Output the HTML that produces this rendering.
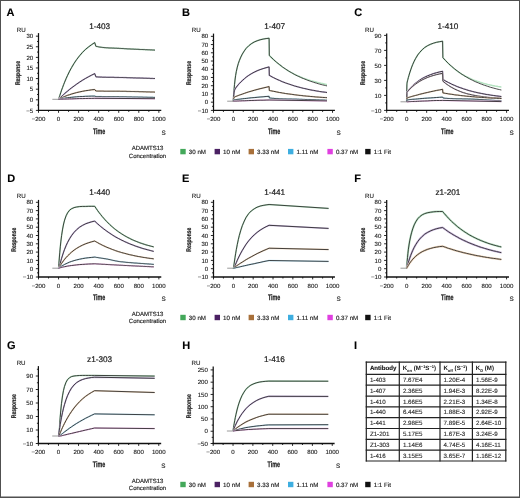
<!DOCTYPE html>
<html><head><meta charset="utf-8"><style>
html,body{margin:0;padding:0;background:#fff;}
svg{display:block;font-family:"Liberation Sans", sans-serif;will-change:transform;text-rendering:geometricPrecision;}
</style></head><body>
<svg width="520" height="498" viewBox="0 0 520 498">
<rect x="0" y="0" width="520" height="498" fill="#fff"/>
<text x="6.50" y="15.70" font-size="11" text-anchor="start" font-weight="bold" fill="#000" stroke="#000" stroke-width="0.1">A</text>
<text x="182.00" y="15.70" font-size="11" text-anchor="start" font-weight="bold" fill="#000" stroke="#000" stroke-width="0.1">B</text>
<text x="354.30" y="15.60" font-size="11" text-anchor="start" font-weight="bold" fill="#000" stroke="#000" stroke-width="0.1">C</text>
<text x="7.20" y="182.00" font-size="11" text-anchor="start" font-weight="bold" fill="#000" stroke="#000" stroke-width="0.1">D</text>
<text x="182.00" y="182.00" font-size="11" text-anchor="start" font-weight="bold" fill="#000" stroke="#000" stroke-width="0.1">E</text>
<text x="354.30" y="182.00" font-size="11" text-anchor="start" font-weight="bold" fill="#000" stroke="#000" stroke-width="0.1">F</text>
<text x="6.90" y="349.30" font-size="11" text-anchor="start" font-weight="bold" fill="#000" stroke="#000" stroke-width="0.1">G</text>
<text x="182.20" y="348.80" font-size="11" text-anchor="start" font-weight="bold" fill="#000" stroke="#000" stroke-width="0.1">H</text>
<text x="354.00" y="348.80" font-size="11" text-anchor="start" font-weight="bold" fill="#000" stroke="#000" stroke-width="0.1">I</text>
<line x1="52.34" y1="99.30" x2="58.56" y2="99.30" stroke="#9a9a9a" stroke-width="1.0"/>
<path d="M58.6,99.3 L58.7,99.0 L58.8,98.6 L58.9,98.3 L59.1,97.7 L59.4,96.7 L59.8,95.5 L60.3,94.0 L60.9,92.2 L61.6,90.1 L62.6,87.4 L63.6,84.7 L64.6,82.2 L66.1,78.6 L67.6,75.3 L69.6,71.2 L71.6,67.5 L74.1,63.3 L76.6,59.6 L79.6,55.7 L82.6,52.3 L85.6,49.3 L88.7,46.8 L91.7,44.6 L94.7,42.6 L95.9,46.3 L96.7,46.5 L97.5,46.6 L98.3,46.8 L99.2,47.0 L100.0,47.1 L100.8,47.2 L101.6,47.3 L102.4,47.4 L103.2,47.5 L104.1,47.6 L104.9,47.7 L105.7,47.7 L106.5,47.8 L107.3,47.8 L108.2,47.9 L109.0,47.9 L109.8,48.0 L110.6,48.0 L111.4,48.0 L112.3,48.1 L113.1,48.1 L113.9,48.1 L114.7,48.2 L115.5,48.2 L116.4,48.2 L117.2,48.3 L118.0,48.3 L118.8,48.3 L119.6,48.4 L120.4,48.4 L121.3,48.5 L122.1,48.5 L122.9,48.6 L123.7,48.6 L124.5,48.7 L125.3,48.7 L126.1,48.8 L126.9,48.8 L127.7,48.9 L128.5,48.9 L129.3,48.9 L130.1,49.0 L130.9,49.0 L131.7,49.1 L132.5,49.1 L133.3,49.1 L134.1,49.2 L134.9,49.2 L135.7,49.2 L136.5,49.3 L137.3,49.3 L138.2,49.3 L139.0,49.4 L139.8,49.4 L140.6,49.5 L141.4,49.5 L142.2,49.5 L143.0,49.6 L143.8,49.6 L144.6,49.6 L145.4,49.7 L146.2,49.7 L147.0,49.7 L147.8,49.8 L148.6,49.8 L149.4,49.8 L150.2,49.9 L151.0,49.9 L151.8,49.9 L152.6,50.0 L153.4,50.0 L154.2,50.1 L155.0,50.1" fill="none" stroke="#b4e2c0" stroke-width="1.5" stroke-linejoin="round"/>
<path d="M58.6,99.3 L58.7,99.0 L58.8,98.6 L58.9,98.3 L59.1,97.7 L59.4,96.7 L59.8,95.5 L60.3,94.0 L60.9,92.2 L61.6,90.1 L62.6,87.4 L63.6,84.7 L64.6,82.2 L66.1,78.6 L67.6,75.3 L69.6,71.2 L71.6,67.5 L74.1,63.3 L76.6,59.6 L79.6,55.7 L82.6,52.3 L85.6,49.3 L88.7,46.8 L91.7,44.6 L94.7,42.6 L95.9,46.3 L96.7,46.5 L97.5,46.6 L98.3,46.8 L99.2,47.0 L100.0,47.1 L100.8,47.2 L101.6,47.3 L102.4,47.4 L103.2,47.5 L104.1,47.6 L104.9,47.7 L105.7,47.7 L106.5,47.8 L107.3,47.8 L108.2,47.9 L109.0,47.9 L109.8,48.0 L110.6,48.0 L111.4,48.0 L112.3,48.1 L113.1,48.1 L113.9,48.1 L114.7,48.2 L115.5,48.2 L116.4,48.2 L117.2,48.3 L118.0,48.3 L118.8,48.3 L119.6,48.4 L120.4,48.4 L121.3,48.5 L122.1,48.5 L122.9,48.6 L123.7,48.6 L124.5,48.7 L125.3,48.7 L126.1,48.8 L126.9,48.8 L127.7,48.9 L128.5,48.9 L129.3,48.9 L130.1,49.0 L130.9,49.0 L131.7,49.1 L132.5,49.1 L133.3,49.1 L134.1,49.2 L134.9,49.2 L135.7,49.2 L136.5,49.3 L137.3,49.3 L138.2,49.3 L139.0,49.4 L139.8,49.4 L140.6,49.5 L141.4,49.5 L142.2,49.5 L143.0,49.6 L143.8,49.6 L144.6,49.6 L145.4,49.7 L146.2,49.7 L147.0,49.7 L147.8,49.8 L148.6,49.8 L149.4,49.8 L150.2,49.9 L151.0,49.9 L151.8,49.9 L152.6,50.0 L153.4,50.0 L154.2,50.1 L155.0,50.1" fill="none" stroke="#262626" stroke-opacity="0.95" stroke-width="0.9" stroke-linejoin="round"/>
<path d="M58.6,99.3 L58.7,99.2 L58.8,99.1 L58.9,99.0 L59.1,98.8 L59.4,98.5 L59.8,98.1 L60.3,97.6 L60.9,97.0 L61.6,96.4 L62.6,95.5 L63.6,94.5 L64.6,93.6 L66.1,92.3 L67.6,91.1 L69.6,89.4 L71.6,87.8 L74.1,86.0 L76.6,84.2 L79.6,82.1 L82.6,80.2 L85.6,78.4 L88.7,76.7 L91.7,75.1 L94.7,73.6 L95.9,76.8 L96.7,76.9 L97.5,76.9 L98.3,77.0 L99.2,77.0 L100.0,77.1 L100.8,77.1 L101.6,77.1 L102.4,77.2 L103.2,77.2 L104.1,77.2 L104.9,77.2 L105.7,77.2 L106.5,77.3 L107.3,77.3 L108.2,77.3 L109.0,77.3 L109.8,77.3 L110.6,77.3 L111.4,77.3 L112.3,77.3 L113.1,77.3 L113.9,77.3 L114.7,77.4 L115.5,77.4 L116.4,77.4 L117.2,77.4 L118.0,77.4 L118.8,77.4 L119.6,77.5 L120.4,77.5 L121.3,77.5 L122.1,77.5 L122.9,77.5 L123.7,77.6 L124.5,77.6 L125.3,77.6 L126.1,77.6 L126.9,77.7 L127.7,77.7 L128.5,77.7 L129.3,77.7 L130.1,77.8 L130.9,77.8 L131.7,77.8 L132.5,77.8 L133.3,77.9 L134.1,77.9 L134.9,77.9 L135.7,77.9 L136.5,78.0 L137.3,78.0 L138.2,78.0 L139.0,78.0 L139.8,78.0 L140.6,78.1 L141.4,78.1 L142.2,78.1 L143.0,78.1 L143.8,78.2 L144.6,78.2 L145.4,78.2 L146.2,78.2 L147.0,78.3 L147.8,78.3 L148.6,78.3 L149.4,78.3 L150.2,78.4 L151.0,78.4 L151.8,78.4 L152.6,78.4 L153.4,78.5 L154.2,78.5 L155.0,78.5" fill="none" stroke="#c8b4dc" stroke-width="1.5" stroke-linejoin="round"/>
<path d="M58.6,99.3 L58.7,99.2 L58.8,99.1 L58.9,99.0 L59.1,98.8 L59.4,98.5 L59.8,98.1 L60.3,97.6 L60.9,97.0 L61.6,96.4 L62.6,95.5 L63.6,94.5 L64.6,93.6 L66.1,92.3 L67.6,91.1 L69.6,89.4 L71.6,87.8 L74.1,86.0 L76.6,84.2 L79.6,82.1 L82.6,80.2 L85.6,78.4 L88.7,76.7 L91.7,75.1 L94.7,73.6 L95.9,76.8 L96.7,76.9 L97.5,76.9 L98.3,77.0 L99.2,77.0 L100.0,77.1 L100.8,77.1 L101.6,77.1 L102.4,77.2 L103.2,77.2 L104.1,77.2 L104.9,77.2 L105.7,77.2 L106.5,77.3 L107.3,77.3 L108.2,77.3 L109.0,77.3 L109.8,77.3 L110.6,77.3 L111.4,77.3 L112.3,77.3 L113.1,77.3 L113.9,77.3 L114.7,77.4 L115.5,77.4 L116.4,77.4 L117.2,77.4 L118.0,77.4 L118.8,77.4 L119.6,77.5 L120.4,77.5 L121.3,77.5 L122.1,77.5 L122.9,77.5 L123.7,77.6 L124.5,77.6 L125.3,77.6 L126.1,77.6 L126.9,77.7 L127.7,77.7 L128.5,77.7 L129.3,77.7 L130.1,77.8 L130.9,77.8 L131.7,77.8 L132.5,77.8 L133.3,77.9 L134.1,77.9 L134.9,77.9 L135.7,77.9 L136.5,78.0 L137.3,78.0 L138.2,78.0 L139.0,78.0 L139.8,78.0 L140.6,78.1 L141.4,78.1 L142.2,78.1 L143.0,78.1 L143.8,78.2 L144.6,78.2 L145.4,78.2 L146.2,78.2 L147.0,78.3 L147.8,78.3 L148.6,78.3 L149.4,78.3 L150.2,78.4 L151.0,78.4 L151.8,78.4 L152.6,78.4 L153.4,78.5 L154.2,78.5 L155.0,78.5" fill="none" stroke="#262626" stroke-opacity="0.95" stroke-width="0.9" stroke-linejoin="round"/>
<path d="M58.6,99.3 L58.7,99.2 L58.8,99.2 L58.9,99.1 L59.1,99.0 L59.4,98.9 L59.8,98.7 L60.3,98.4 L60.9,98.1 L61.6,97.8 L62.6,97.4 L63.6,96.9 L64.6,96.5 L66.1,95.9 L67.6,95.3 L69.6,94.7 L71.6,94.0 L74.1,93.3 L76.6,92.6 L79.6,91.9 L82.6,91.3 L85.6,90.7 L88.7,90.3 L91.7,89.8 L94.7,89.5 L95.9,91.0 L96.7,91.0 L97.5,91.1 L98.3,91.1 L99.2,91.1 L100.0,91.1 L100.8,91.1 L101.6,91.1 L102.4,91.1 L103.2,91.1 L104.1,91.2 L104.9,91.2 L105.7,91.2 L106.5,91.2 L107.3,91.2 L108.2,91.2 L109.0,91.2 L109.8,91.2 L110.6,91.2 L111.4,91.2 L112.3,91.2 L113.1,91.2 L113.9,91.2 L114.7,91.2 L115.5,91.2 L116.4,91.2 L117.2,91.2 L118.0,91.2 L118.8,91.2 L119.6,91.2 L120.4,91.3 L121.3,91.3 L122.1,91.3 L122.9,91.3 L123.7,91.3 L124.5,91.3 L125.3,91.3 L126.1,91.3 L126.9,91.4 L127.7,91.4 L128.5,91.4 L129.3,91.4 L130.1,91.4 L130.9,91.5 L131.7,91.5 L132.5,91.5 L133.3,91.5 L134.1,91.5 L134.9,91.6 L135.7,91.6 L136.5,91.6 L137.3,91.6 L138.2,91.6 L139.0,91.7 L139.8,91.7 L140.6,91.7 L141.4,91.7 L142.2,91.7 L143.0,91.8 L143.8,91.8 L144.6,91.8 L145.4,91.8 L146.2,91.9 L147.0,91.9 L147.8,91.9 L148.6,91.9 L149.4,91.9 L150.2,92.0 L151.0,92.0 L151.8,92.0 L152.6,92.0 L153.4,92.0 L154.2,92.1 L155.0,92.1" fill="none" stroke="#ead0b4" stroke-width="1.5" stroke-linejoin="round"/>
<path d="M58.6,99.3 L58.7,99.2 L58.8,99.2 L58.9,99.1 L59.1,99.0 L59.4,98.9 L59.8,98.7 L60.3,98.4 L60.9,98.1 L61.6,97.8 L62.6,97.4 L63.6,96.9 L64.6,96.5 L66.1,95.9 L67.6,95.3 L69.6,94.7 L71.6,94.0 L74.1,93.3 L76.6,92.6 L79.6,91.9 L82.6,91.3 L85.6,90.7 L88.7,90.3 L91.7,89.8 L94.7,89.5 L95.9,91.0 L96.7,91.0 L97.5,91.1 L98.3,91.1 L99.2,91.1 L100.0,91.1 L100.8,91.1 L101.6,91.1 L102.4,91.1 L103.2,91.1 L104.1,91.2 L104.9,91.2 L105.7,91.2 L106.5,91.2 L107.3,91.2 L108.2,91.2 L109.0,91.2 L109.8,91.2 L110.6,91.2 L111.4,91.2 L112.3,91.2 L113.1,91.2 L113.9,91.2 L114.7,91.2 L115.5,91.2 L116.4,91.2 L117.2,91.2 L118.0,91.2 L118.8,91.2 L119.6,91.2 L120.4,91.3 L121.3,91.3 L122.1,91.3 L122.9,91.3 L123.7,91.3 L124.5,91.3 L125.3,91.3 L126.1,91.3 L126.9,91.4 L127.7,91.4 L128.5,91.4 L129.3,91.4 L130.1,91.4 L130.9,91.5 L131.7,91.5 L132.5,91.5 L133.3,91.5 L134.1,91.5 L134.9,91.6 L135.7,91.6 L136.5,91.6 L137.3,91.6 L138.2,91.6 L139.0,91.7 L139.8,91.7 L140.6,91.7 L141.4,91.7 L142.2,91.7 L143.0,91.8 L143.8,91.8 L144.6,91.8 L145.4,91.8 L146.2,91.9 L147.0,91.9 L147.8,91.9 L148.6,91.9 L149.4,91.9 L150.2,92.0 L151.0,92.0 L151.8,92.0 L152.6,92.0 L153.4,92.0 L154.2,92.1 L155.0,92.1" fill="none" stroke="#262626" stroke-opacity="0.95" stroke-width="0.9" stroke-linejoin="round"/>
<path d="M58.6,99.3 L58.7,99.3 L58.8,99.3 L58.9,99.2 L59.1,99.2 L59.4,99.1 L59.8,99.0 L60.3,98.9 L60.9,98.8 L61.6,98.7 L62.6,98.5 L63.6,98.3 L64.6,98.2 L66.1,97.9 L67.6,97.7 L69.6,97.5 L71.6,97.3 L74.1,97.0 L76.6,96.8 L79.6,96.6 L82.6,96.5 L85.6,96.3 L88.7,96.2 L91.7,96.1 L94.7,96.1 L95.9,96.5 L96.7,96.6 L97.5,96.6 L98.3,96.6 L99.2,96.6 L100.0,96.6 L100.8,96.6 L101.6,96.6 L102.4,96.7 L103.2,96.7 L104.1,96.7 L104.9,96.7 L105.7,96.7 L106.5,96.7 L107.3,96.7 L108.2,96.7 L109.0,96.7 L109.8,96.7 L110.6,96.7 L111.4,96.7 L112.3,96.7 L113.1,96.7 L113.9,96.7 L114.7,96.7 L115.5,96.7 L116.4,96.7 L117.2,96.7 L118.0,96.7 L118.8,96.7 L119.6,96.8 L120.4,96.8 L121.3,96.8 L122.1,96.8 L122.9,96.8 L123.7,96.8 L124.5,96.8 L125.3,96.8 L126.1,96.8 L126.9,96.9 L127.7,96.9 L128.5,96.9 L129.3,96.9 L130.1,96.9 L130.9,96.9 L131.7,96.9 L132.5,97.0 L133.3,97.0 L134.1,97.0 L134.9,97.0 L135.7,97.0 L136.5,97.0 L137.3,97.0 L138.2,97.1 L139.0,97.1 L139.8,97.1 L140.6,97.1 L141.4,97.1 L142.2,97.1 L143.0,97.2 L143.8,97.2 L144.6,97.2 L145.4,97.2 L146.2,97.2 L147.0,97.2 L147.8,97.3 L148.6,97.3 L149.4,97.3 L150.2,97.3 L151.0,97.3 L151.8,97.3 L152.6,97.3 L153.4,97.4 L154.2,97.4 L155.0,97.4" fill="none" stroke="#bfe4f4" stroke-width="1.5" stroke-linejoin="round"/>
<path d="M58.6,99.3 L58.7,99.3 L58.8,99.3 L58.9,99.2 L59.1,99.2 L59.4,99.1 L59.8,99.0 L60.3,98.9 L60.9,98.8 L61.6,98.7 L62.6,98.5 L63.6,98.3 L64.6,98.2 L66.1,97.9 L67.6,97.7 L69.6,97.5 L71.6,97.3 L74.1,97.0 L76.6,96.8 L79.6,96.6 L82.6,96.5 L85.6,96.3 L88.7,96.2 L91.7,96.1 L94.7,96.1 L95.9,96.5 L96.7,96.6 L97.5,96.6 L98.3,96.6 L99.2,96.6 L100.0,96.6 L100.8,96.6 L101.6,96.6 L102.4,96.7 L103.2,96.7 L104.1,96.7 L104.9,96.7 L105.7,96.7 L106.5,96.7 L107.3,96.7 L108.2,96.7 L109.0,96.7 L109.8,96.7 L110.6,96.7 L111.4,96.7 L112.3,96.7 L113.1,96.7 L113.9,96.7 L114.7,96.7 L115.5,96.7 L116.4,96.7 L117.2,96.7 L118.0,96.7 L118.8,96.7 L119.6,96.8 L120.4,96.8 L121.3,96.8 L122.1,96.8 L122.9,96.8 L123.7,96.8 L124.5,96.8 L125.3,96.8 L126.1,96.8 L126.9,96.9 L127.7,96.9 L128.5,96.9 L129.3,96.9 L130.1,96.9 L130.9,96.9 L131.7,96.9 L132.5,97.0 L133.3,97.0 L134.1,97.0 L134.9,97.0 L135.7,97.0 L136.5,97.0 L137.3,97.0 L138.2,97.1 L139.0,97.1 L139.8,97.1 L140.6,97.1 L141.4,97.1 L142.2,97.1 L143.0,97.2 L143.8,97.2 L144.6,97.2 L145.4,97.2 L146.2,97.2 L147.0,97.2 L147.8,97.3 L148.6,97.3 L149.4,97.3 L150.2,97.3 L151.0,97.3 L151.8,97.3 L152.6,97.3 L153.4,97.4 L154.2,97.4 L155.0,97.4" fill="none" stroke="#262626" stroke-opacity="0.95" stroke-width="0.9" stroke-linejoin="round"/>
<path d="M58.6,99.3 L58.7,99.3 L58.8,99.3 L58.9,99.3 L59.1,99.3 L59.4,99.3 L59.8,99.3 L60.3,99.2 L60.9,99.2 L61.6,99.2 L62.6,99.2 L63.6,99.1 L64.6,99.1 L66.1,99.0 L67.6,99.0 L69.6,98.9 L71.6,98.9 L74.1,98.8 L76.6,98.7 L79.6,98.6 L82.6,98.6 L85.6,98.5 L88.7,98.4 L91.7,98.4 L94.7,98.3 L155.0,98.7" fill="none" stroke="#f6c4f0" stroke-width="1.5" stroke-linejoin="round"/>
<path d="M58.6,99.3 L58.7,99.3 L58.8,99.3 L58.9,99.3 L59.1,99.3 L59.4,99.3 L59.8,99.3 L60.3,99.2 L60.9,99.2 L61.6,99.2 L62.6,99.2 L63.6,99.1 L64.6,99.1 L66.1,99.0 L67.6,99.0 L69.6,98.9 L71.6,98.9 L74.1,98.8 L76.6,98.7 L79.6,98.6 L82.6,98.6 L85.6,98.5 L88.7,98.4 L91.7,98.4 L94.7,98.3 L155.0,98.7" fill="none" stroke="#262626" stroke-opacity="0.95" stroke-width="0.9" stroke-linejoin="round"/>
<line x1="38.50" y1="33.10" x2="38.50" y2="111.00" stroke="#111" stroke-width="1.25"/>
<line x1="37.90" y1="110.40" x2="161.27" y2="110.40" stroke="#111" stroke-width="1.3"/>
<line x1="38.50" y1="110.40" x2="38.50" y2="112.80" stroke="#111" stroke-width="0.9"/>
<text x="38.50" y="121.30" font-size="6.1" text-anchor="middle" font-weight="normal" fill="#222"  stroke="#222" stroke-width="0.12">−200</text>
<line x1="58.56" y1="110.40" x2="58.56" y2="112.80" stroke="#111" stroke-width="0.9"/>
<text x="58.56" y="121.30" font-size="6.1" text-anchor="middle" font-weight="normal" fill="#222"  stroke="#222" stroke-width="0.12">0</text>
<line x1="78.62" y1="110.40" x2="78.62" y2="112.80" stroke="#111" stroke-width="0.9"/>
<text x="78.62" y="121.30" font-size="6.1" text-anchor="middle" font-weight="normal" fill="#222"  stroke="#222" stroke-width="0.12">200</text>
<line x1="98.68" y1="110.40" x2="98.68" y2="112.80" stroke="#111" stroke-width="0.9"/>
<text x="98.68" y="121.30" font-size="6.1" text-anchor="middle" font-weight="normal" fill="#222"  stroke="#222" stroke-width="0.12">400</text>
<line x1="118.74" y1="110.40" x2="118.74" y2="112.80" stroke="#111" stroke-width="0.9"/>
<text x="118.74" y="121.30" font-size="6.1" text-anchor="middle" font-weight="normal" fill="#222"  stroke="#222" stroke-width="0.12">600</text>
<line x1="138.80" y1="110.40" x2="138.80" y2="112.80" stroke="#111" stroke-width="0.9"/>
<text x="138.80" y="121.30" font-size="6.1" text-anchor="middle" font-weight="normal" fill="#222"  stroke="#222" stroke-width="0.12">800</text>
<line x1="158.86" y1="110.40" x2="158.86" y2="112.80" stroke="#111" stroke-width="0.9"/>
<text x="158.86" y="121.30" font-size="6.1" text-anchor="middle" font-weight="normal" fill="#222"  stroke="#222" stroke-width="0.12">1000</text>
<line x1="48.53" y1="110.40" x2="48.53" y2="111.90" stroke="#111" stroke-width="0.9"/>
<line x1="68.59" y1="110.40" x2="68.59" y2="111.90" stroke="#111" stroke-width="0.9"/>
<line x1="88.65" y1="110.40" x2="88.65" y2="111.90" stroke="#111" stroke-width="0.9"/>
<line x1="108.71" y1="110.40" x2="108.71" y2="111.90" stroke="#111" stroke-width="0.9"/>
<line x1="128.77" y1="110.40" x2="128.77" y2="111.90" stroke="#111" stroke-width="0.9"/>
<line x1="148.83" y1="110.40" x2="148.83" y2="111.90" stroke="#111" stroke-width="0.9"/>
<line x1="35.90" y1="110.40" x2="38.50" y2="110.40" stroke="#111" stroke-width="0.9"/>
<text x="33.20" y="112.55" font-size="6.1" text-anchor="end" font-weight="normal" fill="#222"  stroke="#222" stroke-width="0.12">−5</text>
<line x1="35.90" y1="99.80" x2="38.50" y2="99.80" stroke="#111" stroke-width="0.9"/>
<text x="33.20" y="101.95" font-size="6.1" text-anchor="end" font-weight="normal" fill="#222"  stroke="#222" stroke-width="0.12">0</text>
<line x1="35.90" y1="89.19" x2="38.50" y2="89.19" stroke="#111" stroke-width="0.9"/>
<text x="33.20" y="91.34" font-size="6.1" text-anchor="end" font-weight="normal" fill="#222"  stroke="#222" stroke-width="0.12">5</text>
<line x1="35.90" y1="78.59" x2="38.50" y2="78.59" stroke="#111" stroke-width="0.9"/>
<text x="33.20" y="80.74" font-size="6.1" text-anchor="end" font-weight="normal" fill="#222"  stroke="#222" stroke-width="0.12">10</text>
<line x1="35.90" y1="67.98" x2="38.50" y2="67.98" stroke="#111" stroke-width="0.9"/>
<text x="33.20" y="70.13" font-size="6.1" text-anchor="end" font-weight="normal" fill="#222"  stroke="#222" stroke-width="0.12">15</text>
<line x1="35.90" y1="57.38" x2="38.50" y2="57.38" stroke="#111" stroke-width="0.9"/>
<text x="33.20" y="59.53" font-size="6.1" text-anchor="end" font-weight="normal" fill="#222"  stroke="#222" stroke-width="0.12">20</text>
<line x1="35.90" y1="46.77" x2="38.50" y2="46.77" stroke="#111" stroke-width="0.9"/>
<text x="33.20" y="48.92" font-size="6.1" text-anchor="end" font-weight="normal" fill="#222"  stroke="#222" stroke-width="0.12">25</text>
<line x1="35.90" y1="36.17" x2="38.50" y2="36.17" stroke="#111" stroke-width="0.9"/>
<text x="33.20" y="38.32" font-size="6.1" text-anchor="end" font-weight="normal" fill="#222"  stroke="#222" stroke-width="0.12">30</text>
<line x1="37.00" y1="105.10" x2="38.50" y2="105.10" stroke="#111" stroke-width="0.9"/>
<line x1="37.00" y1="94.49" x2="38.50" y2="94.49" stroke="#111" stroke-width="0.9"/>
<line x1="37.00" y1="83.89" x2="38.50" y2="83.89" stroke="#111" stroke-width="0.9"/>
<line x1="37.00" y1="73.28" x2="38.50" y2="73.28" stroke="#111" stroke-width="0.9"/>
<line x1="37.00" y1="62.68" x2="38.50" y2="62.68" stroke="#111" stroke-width="0.9"/>
<line x1="37.00" y1="52.07" x2="38.50" y2="52.07" stroke="#111" stroke-width="0.9"/>
<line x1="37.00" y1="41.47" x2="38.50" y2="41.47" stroke="#111" stroke-width="0.9"/>
<text x="21.20" y="31.70" font-size="6.2" text-anchor="middle" font-weight="normal" fill="#222"  stroke="#222" stroke-width="0.12">RU</text>
<text transform="translate(20.30,73.10) rotate(-90) scale(0.74,1)" x="0" y="0" font-size="6.8" text-anchor="middle" font-weight="bold" fill="#1a1a1a" stroke="#1a1a1a" stroke-width="0.2">Response</text>
<text transform="translate(99.10,133.50) scale(0.66,1)" x="0" y="0" font-size="8.1" text-anchor="middle" font-weight="bold" fill="#1a1a1a" stroke="#1a1a1a" stroke-width="0.25">Time</text>
<text x="163.50" y="134.60" font-size="6.3" text-anchor="middle" font-weight="normal" fill="#222"  stroke="#222" stroke-width="0.12">S</text>
<text x="99.70" y="28.70" font-size="8.2" text-anchor="middle" font-weight="normal" fill="#1a1a1a" stroke="#1a1a1a" stroke-width="0.2">1-403</text>
<line x1="227.19" y1="101.20" x2="233.34" y2="101.20" stroke="#9a9a9a" stroke-width="1.0"/>
<path d="M233.3,101.2 L233.4,99.4 L233.5,97.7 L233.6,96.1 L233.8,93.1 L234.1,89.1 L234.5,84.6 L235.0,80.0 L235.6,75.6 L236.3,71.6 L237.3,67.1 L238.3,63.6 L239.3,60.7 L240.8,57.1 L242.3,54.1 L244.3,50.9 L246.2,48.3 L248.7,45.8 L251.2,43.8 L254.2,42.0 L257.1,40.8 L260.1,39.8 L263.1,39.1 L266.1,38.6 L269.1,38.2 L269.3,55.4 L270.5,56.6 L272.0,58.1 L273.5,59.6 L275.0,61.0 L276.5,62.3 L278.0,63.5 L279.5,64.7 L281.0,65.9 L282.4,67.0 L283.9,68.0 L285.4,69.0 L286.9,70.0 L288.4,70.9 L289.9,71.8 L291.4,72.6 L292.9,73.4 L294.3,74.2 L295.8,74.9 L297.3,75.6 L298.8,76.2 L300.3,76.9 L301.8,77.5 L303.3,78.1 L304.8,78.6 L306.3,79.1 L307.7,79.6 L309.2,80.1 L310.7,80.6 L312.2,81.0 L313.7,81.4 L315.2,81.8 L316.7,82.2 L318.2,82.6 L319.6,82.9 L321.1,83.3 L322.6,83.6 L324.1,83.9 L325.6,84.2 L327.0,84.4" fill="none" stroke="#b4e2c0" stroke-width="1.5" stroke-linejoin="round"/>
<path d="M233.3,101.2 L233.4,99.4 L233.5,97.7 L233.6,96.1 L233.8,93.1 L234.1,89.1 L234.5,84.6 L235.0,80.0 L235.6,75.6 L236.3,71.6 L237.3,67.1 L238.3,63.6 L239.3,60.7 L240.8,57.1 L242.3,54.1 L244.3,50.9 L246.2,48.3 L248.7,45.8 L251.2,43.8 L254.2,42.0 L257.1,40.8 L260.1,39.8 L263.1,39.1 L266.1,38.6 L269.1,38.2 L269.3,55.5 L270.5,56.7 L272.0,58.1 L273.5,59.5 L275.0,60.9 L276.5,62.2 L278.0,63.4 L279.5,64.6 L281.0,65.7 L282.4,66.9 L283.9,67.9 L285.4,68.9 L286.9,69.9 L288.4,70.9 L289.9,71.8 L291.4,72.6 L292.9,73.5 L294.3,74.3 L295.8,75.1 L297.3,75.8 L298.8,76.5 L300.3,77.2 L301.8,77.9 L303.3,78.5 L304.8,79.1 L306.3,79.7 L307.7,80.3 L309.2,80.8 L310.7,81.3 L312.2,81.8 L313.7,82.3 L315.2,82.8 L316.7,83.2 L318.2,83.7 L319.6,84.1 L321.1,84.5 L322.6,84.9 L324.1,85.2 L325.6,85.6 L327.0,85.9" fill="none" stroke="#262626" stroke-opacity="0.95" stroke-width="0.9" stroke-linejoin="round"/>
<path d="M233.3,101.2 L233.4,99.3 L233.5,97.6 L233.6,96.3 L233.8,94.2 L234.1,92.1 L234.5,90.5 L235.0,89.2 L235.6,88.2 L236.3,87.2 L237.3,85.9 L238.3,84.7 L239.3,83.6 L240.8,82.0 L242.3,80.6 L244.3,78.8 L246.2,77.2 L248.7,75.4 L251.2,73.8 L254.2,72.2 L257.1,70.8 L260.1,69.6 L263.1,68.6 L266.1,67.7 L269.1,66.9 L269.3,75.4 L270.5,76.0 L272.0,76.9 L273.5,77.6 L275.0,78.4 L276.5,79.1 L278.0,79.8 L279.5,80.4 L281.0,81.1 L282.4,81.7 L283.9,82.3 L285.4,82.9 L286.9,83.4 L288.4,83.9 L289.9,84.4 L291.4,84.9 L292.9,85.4 L294.3,85.9 L295.8,86.3 L297.3,86.7 L298.8,87.1 L300.3,87.5 L301.8,87.9 L303.3,88.3 L304.8,88.6 L306.3,88.9 L307.7,89.3 L309.2,89.6 L310.7,89.9 L312.2,90.2 L313.7,90.4 L315.2,90.7 L316.7,91.0 L318.2,91.2 L319.6,91.5 L321.1,91.7 L322.6,91.9 L324.1,92.1 L325.6,92.3 L327.0,92.5" fill="none" stroke="#c8b4dc" stroke-width="1.5" stroke-linejoin="round"/>
<path d="M233.3,101.2 L233.4,99.3 L233.5,97.6 L233.6,96.3 L233.8,94.2 L234.1,92.1 L234.5,90.5 L235.0,89.2 L235.6,88.2 L236.3,87.2 L237.3,85.9 L238.3,84.7 L239.3,83.6 L240.8,82.0 L242.3,80.6 L244.3,78.8 L246.2,77.2 L248.7,75.4 L251.2,73.8 L254.2,72.2 L257.1,70.8 L260.1,69.6 L263.1,68.6 L266.1,67.7 L269.1,66.9 L269.3,75.4 L270.5,76.0 L272.0,76.9 L273.5,77.6 L275.0,78.4 L276.5,79.1 L278.0,79.8 L279.5,80.4 L281.0,81.1 L282.4,81.7 L283.9,82.3 L285.4,82.9 L286.9,83.4 L288.4,83.9 L289.9,84.4 L291.4,84.9 L292.9,85.4 L294.3,85.9 L295.8,86.3 L297.3,86.7 L298.8,87.1 L300.3,87.5 L301.8,87.9 L303.3,88.3 L304.8,88.6 L306.3,88.9 L307.7,89.3 L309.2,89.6 L310.7,89.9 L312.2,90.2 L313.7,90.4 L315.2,90.7 L316.7,91.0 L318.2,91.2 L319.6,91.5 L321.1,91.7 L322.6,91.9 L324.1,92.1 L325.6,92.3 L327.0,92.5" fill="none" stroke="#262626" stroke-opacity="0.95" stroke-width="0.9" stroke-linejoin="round"/>
<path d="M233.3,101.2 L233.4,100.1 L233.5,99.3 L233.6,98.7 L233.8,98.0 L234.1,97.4 L234.5,97.1 L235.0,96.8 L235.6,96.5 L236.3,96.3 L237.3,95.9 L238.3,95.5 L239.3,95.1 L240.8,94.6 L242.3,94.1 L244.3,93.4 L246.2,92.7 L248.7,91.9 L251.2,91.2 L254.2,90.3 L257.1,89.5 L260.1,88.7 L263.1,88.0 L266.1,87.3 L269.1,86.6 L269.3,90.5 L270.5,90.7 L272.0,91.0 L273.5,91.3 L275.0,91.6 L276.5,91.9 L278.0,92.2 L279.5,92.5 L281.0,92.7 L282.4,93.0 L283.9,93.2 L285.4,93.5 L286.9,93.7 L288.4,93.9 L289.9,94.1 L291.4,94.3 L292.9,94.5 L294.3,94.7 L295.8,94.9 L297.3,95.1 L298.8,95.3 L300.3,95.4 L301.8,95.6 L303.3,95.8 L304.8,95.9 L306.3,96.1 L307.7,96.2 L309.2,96.3 L310.7,96.5 L312.2,96.6 L313.7,96.7 L315.2,96.9 L316.7,97.0 L318.2,97.1 L319.6,97.2 L321.1,97.3 L322.6,97.4 L324.1,97.5 L325.6,97.6 L327.0,97.7" fill="none" stroke="#ead0b4" stroke-width="1.5" stroke-linejoin="round"/>
<path d="M233.3,101.2 L233.4,100.1 L233.5,99.3 L233.6,98.7 L233.8,98.0 L234.1,97.4 L234.5,97.1 L235.0,96.8 L235.6,96.5 L236.3,96.3 L237.3,95.9 L238.3,95.5 L239.3,95.1 L240.8,94.6 L242.3,94.1 L244.3,93.4 L246.2,92.7 L248.7,91.9 L251.2,91.2 L254.2,90.3 L257.1,89.5 L260.1,88.7 L263.1,88.0 L266.1,87.3 L269.1,86.6 L269.3,90.5 L270.5,90.7 L272.0,91.0 L273.5,91.3 L275.0,91.6 L276.5,91.9 L278.0,92.2 L279.5,92.5 L281.0,92.7 L282.4,93.0 L283.9,93.2 L285.4,93.5 L286.9,93.7 L288.4,93.9 L289.9,94.1 L291.4,94.3 L292.9,94.5 L294.3,94.7 L295.8,94.9 L297.3,95.1 L298.8,95.3 L300.3,95.4 L301.8,95.6 L303.3,95.8 L304.8,95.9 L306.3,96.1 L307.7,96.2 L309.2,96.3 L310.7,96.5 L312.2,96.6 L313.7,96.7 L315.2,96.9 L316.7,97.0 L318.2,97.1 L319.6,97.2 L321.1,97.3 L322.6,97.4 L324.1,97.5 L325.6,97.6 L327.0,97.7" fill="none" stroke="#262626" stroke-opacity="0.95" stroke-width="0.9" stroke-linejoin="round"/>
<path d="M233.3,101.2 L233.4,100.7 L233.5,100.4 L233.6,100.2 L233.8,100.0 L234.1,99.9 L234.5,99.8 L235.0,99.7 L235.6,99.7 L236.3,99.6 L237.3,99.4 L238.3,99.3 L239.3,99.2 L240.8,99.0 L242.3,98.8 L244.3,98.6 L246.2,98.4 L248.7,98.1 L251.2,97.8 L254.2,97.6 L257.1,97.3 L260.1,97.0 L263.1,96.8 L266.1,96.5 L269.1,96.3 L269.3,97.9 L270.1,98.0 L270.9,98.1 L271.7,98.2 L272.5,98.3 L273.3,98.3 L274.1,98.4 L274.9,98.5 L275.7,98.5 L276.5,98.6 L277.3,98.6 L278.1,98.7 L278.9,98.7 L279.7,98.8 L280.5,98.8 L281.3,98.8 L282.0,98.8 L282.8,98.9 L283.6,98.9 L284.4,98.9 L285.2,98.9 L286.0,98.9 L286.8,99.0 L287.6,99.0 L288.4,99.0 L289.2,99.0 L290.0,99.0 L290.8,99.0 L291.6,99.0 L292.4,99.1 L293.2,99.1 L294.0,99.1 L294.7,99.1 L295.5,99.1 L296.3,99.1 L297.1,99.2 L297.9,99.2 L298.7,99.2 L299.5,99.3 L300.3,99.3 L301.1,99.3 L301.9,99.3 L302.8,99.4 L303.6,99.4 L304.4,99.4 L305.2,99.5 L306.0,99.5 L306.8,99.5 L307.6,99.6 L308.4,99.6 L309.2,99.6 L310.0,99.6 L310.8,99.7 L311.6,99.7 L312.4,99.7 L313.3,99.7 L314.1,99.8 L314.9,99.8 L315.7,99.8 L316.5,99.9 L317.3,99.9 L318.1,99.9 L318.9,99.9 L319.7,100.0 L320.5,100.0 L321.3,100.0 L322.1,100.0 L322.9,100.1 L323.8,100.1 L324.6,100.1 L325.4,100.2 L326.2,100.2 L327.0,100.2" fill="none" stroke="#bfe4f4" stroke-width="1.5" stroke-linejoin="round"/>
<path d="M233.3,101.2 L233.4,100.7 L233.5,100.4 L233.6,100.2 L233.8,100.0 L234.1,99.9 L234.5,99.8 L235.0,99.7 L235.6,99.7 L236.3,99.6 L237.3,99.4 L238.3,99.3 L239.3,99.2 L240.8,99.0 L242.3,98.8 L244.3,98.6 L246.2,98.4 L248.7,98.1 L251.2,97.8 L254.2,97.6 L257.1,97.3 L260.1,97.0 L263.1,96.8 L266.1,96.5 L269.1,96.3 L269.3,97.9 L270.1,98.0 L270.9,98.1 L271.7,98.2 L272.5,98.3 L273.3,98.3 L274.1,98.4 L274.9,98.5 L275.7,98.5 L276.5,98.6 L277.3,98.6 L278.1,98.7 L278.9,98.7 L279.7,98.8 L280.5,98.8 L281.3,98.8 L282.0,98.8 L282.8,98.9 L283.6,98.9 L284.4,98.9 L285.2,98.9 L286.0,98.9 L286.8,99.0 L287.6,99.0 L288.4,99.0 L289.2,99.0 L290.0,99.0 L290.8,99.0 L291.6,99.0 L292.4,99.1 L293.2,99.1 L294.0,99.1 L294.7,99.1 L295.5,99.1 L296.3,99.1 L297.1,99.2 L297.9,99.2 L298.7,99.2 L299.5,99.3 L300.3,99.3 L301.1,99.3 L301.9,99.3 L302.8,99.4 L303.6,99.4 L304.4,99.4 L305.2,99.5 L306.0,99.5 L306.8,99.5 L307.6,99.6 L308.4,99.6 L309.2,99.6 L310.0,99.6 L310.8,99.7 L311.6,99.7 L312.4,99.7 L313.3,99.7 L314.1,99.8 L314.9,99.8 L315.7,99.8 L316.5,99.9 L317.3,99.9 L318.1,99.9 L318.9,99.9 L319.7,100.0 L320.5,100.0 L321.3,100.0 L322.1,100.0 L322.9,100.1 L323.8,100.1 L324.6,100.1 L325.4,100.2 L326.2,100.2 L327.0,100.2" fill="none" stroke="#262626" stroke-opacity="0.95" stroke-width="0.9" stroke-linejoin="round"/>
<path d="M233.3,101.2 L233.4,101.2 L233.5,101.2 L233.6,101.2 L233.8,101.2 L234.1,101.2 L234.5,101.1 L235.0,101.1 L235.6,101.1 L236.3,101.1 L237.3,101.0 L238.3,101.0 L239.3,100.9 L240.8,100.9 L242.3,100.8 L244.3,100.8 L246.2,100.7 L248.7,100.6 L251.2,100.5 L254.2,100.4 L257.1,100.3 L260.1,100.2 L263.1,100.2 L266.1,100.1 L269.1,100.0 L327.0,100.9" fill="none" stroke="#f6c4f0" stroke-width="1.5" stroke-linejoin="round"/>
<path d="M233.3,101.2 L233.4,101.2 L233.5,101.2 L233.6,101.2 L233.8,101.2 L234.1,101.2 L234.5,101.1 L235.0,101.1 L235.6,101.1 L236.3,101.1 L237.3,101.0 L238.3,101.0 L239.3,100.9 L240.8,100.9 L242.3,100.8 L244.3,100.8 L246.2,100.7 L248.7,100.6 L251.2,100.5 L254.2,100.4 L257.1,100.3 L260.1,100.2 L263.1,100.2 L266.1,100.1 L269.1,100.0 L327.0,100.9" fill="none" stroke="#262626" stroke-opacity="0.95" stroke-width="0.9" stroke-linejoin="round"/>
<line x1="213.50" y1="33.60" x2="213.50" y2="111.00" stroke="#111" stroke-width="1.25"/>
<line x1="212.90" y1="110.40" x2="334.92" y2="110.40" stroke="#111" stroke-width="1.3"/>
<line x1="213.50" y1="110.40" x2="213.50" y2="112.80" stroke="#111" stroke-width="0.9"/>
<text x="213.50" y="121.30" font-size="6.1" text-anchor="middle" font-weight="normal" fill="#222"  stroke="#222" stroke-width="0.12">−200</text>
<line x1="233.34" y1="110.40" x2="233.34" y2="112.80" stroke="#111" stroke-width="0.9"/>
<text x="233.34" y="121.30" font-size="6.1" text-anchor="middle" font-weight="normal" fill="#222"  stroke="#222" stroke-width="0.12">0</text>
<line x1="253.18" y1="110.40" x2="253.18" y2="112.80" stroke="#111" stroke-width="0.9"/>
<text x="253.18" y="121.30" font-size="6.1" text-anchor="middle" font-weight="normal" fill="#222"  stroke="#222" stroke-width="0.12">200</text>
<line x1="273.02" y1="110.40" x2="273.02" y2="112.80" stroke="#111" stroke-width="0.9"/>
<text x="273.02" y="121.30" font-size="6.1" text-anchor="middle" font-weight="normal" fill="#222"  stroke="#222" stroke-width="0.12">400</text>
<line x1="292.86" y1="110.40" x2="292.86" y2="112.80" stroke="#111" stroke-width="0.9"/>
<text x="292.86" y="121.30" font-size="6.1" text-anchor="middle" font-weight="normal" fill="#222"  stroke="#222" stroke-width="0.12">600</text>
<line x1="312.70" y1="110.40" x2="312.70" y2="112.80" stroke="#111" stroke-width="0.9"/>
<text x="312.70" y="121.30" font-size="6.1" text-anchor="middle" font-weight="normal" fill="#222"  stroke="#222" stroke-width="0.12">800</text>
<line x1="332.54" y1="110.40" x2="332.54" y2="112.80" stroke="#111" stroke-width="0.9"/>
<text x="332.54" y="121.30" font-size="6.1" text-anchor="middle" font-weight="normal" fill="#222"  stroke="#222" stroke-width="0.12">1000</text>
<line x1="223.42" y1="110.40" x2="223.42" y2="111.90" stroke="#111" stroke-width="0.9"/>
<line x1="243.26" y1="110.40" x2="243.26" y2="111.90" stroke="#111" stroke-width="0.9"/>
<line x1="263.10" y1="110.40" x2="263.10" y2="111.90" stroke="#111" stroke-width="0.9"/>
<line x1="282.94" y1="110.40" x2="282.94" y2="111.90" stroke="#111" stroke-width="0.9"/>
<line x1="302.78" y1="110.40" x2="302.78" y2="111.90" stroke="#111" stroke-width="0.9"/>
<line x1="322.62" y1="110.40" x2="322.62" y2="111.90" stroke="#111" stroke-width="0.9"/>
<line x1="210.90" y1="110.40" x2="213.50" y2="110.40" stroke="#111" stroke-width="0.9"/>
<text x="208.20" y="112.55" font-size="6.1" text-anchor="end" font-weight="normal" fill="#222"  stroke="#222" stroke-width="0.12">−10</text>
<line x1="210.90" y1="102.17" x2="213.50" y2="102.17" stroke="#111" stroke-width="0.9"/>
<text x="208.20" y="104.32" font-size="6.1" text-anchor="end" font-weight="normal" fill="#222"  stroke="#222" stroke-width="0.12">0</text>
<line x1="210.90" y1="93.94" x2="213.50" y2="93.94" stroke="#111" stroke-width="0.9"/>
<text x="208.20" y="96.09" font-size="6.1" text-anchor="end" font-weight="normal" fill="#222"  stroke="#222" stroke-width="0.12">10</text>
<line x1="210.90" y1="85.71" x2="213.50" y2="85.71" stroke="#111" stroke-width="0.9"/>
<text x="208.20" y="87.86" font-size="6.1" text-anchor="end" font-weight="normal" fill="#222"  stroke="#222" stroke-width="0.12">20</text>
<line x1="210.90" y1="77.48" x2="213.50" y2="77.48" stroke="#111" stroke-width="0.9"/>
<text x="208.20" y="79.63" font-size="6.1" text-anchor="end" font-weight="normal" fill="#222"  stroke="#222" stroke-width="0.12">30</text>
<line x1="210.90" y1="69.25" x2="213.50" y2="69.25" stroke="#111" stroke-width="0.9"/>
<text x="208.20" y="71.40" font-size="6.1" text-anchor="end" font-weight="normal" fill="#222"  stroke="#222" stroke-width="0.12">40</text>
<line x1="210.90" y1="61.02" x2="213.50" y2="61.02" stroke="#111" stroke-width="0.9"/>
<text x="208.20" y="63.17" font-size="6.1" text-anchor="end" font-weight="normal" fill="#222"  stroke="#222" stroke-width="0.12">50</text>
<line x1="210.90" y1="52.79" x2="213.50" y2="52.79" stroke="#111" stroke-width="0.9"/>
<text x="208.20" y="54.94" font-size="6.1" text-anchor="end" font-weight="normal" fill="#222"  stroke="#222" stroke-width="0.12">60</text>
<line x1="210.90" y1="44.56" x2="213.50" y2="44.56" stroke="#111" stroke-width="0.9"/>
<text x="208.20" y="46.71" font-size="6.1" text-anchor="end" font-weight="normal" fill="#222"  stroke="#222" stroke-width="0.12">70</text>
<line x1="210.90" y1="36.33" x2="213.50" y2="36.33" stroke="#111" stroke-width="0.9"/>
<text x="208.20" y="38.48" font-size="6.1" text-anchor="end" font-weight="normal" fill="#222"  stroke="#222" stroke-width="0.12">80</text>
<line x1="212.00" y1="106.29" x2="213.50" y2="106.29" stroke="#111" stroke-width="0.9"/>
<line x1="212.00" y1="98.06" x2="213.50" y2="98.06" stroke="#111" stroke-width="0.9"/>
<line x1="212.00" y1="89.83" x2="213.50" y2="89.83" stroke="#111" stroke-width="0.9"/>
<line x1="212.00" y1="81.59" x2="213.50" y2="81.59" stroke="#111" stroke-width="0.9"/>
<line x1="212.00" y1="73.37" x2="213.50" y2="73.37" stroke="#111" stroke-width="0.9"/>
<line x1="212.00" y1="65.14" x2="213.50" y2="65.14" stroke="#111" stroke-width="0.9"/>
<line x1="212.00" y1="56.91" x2="213.50" y2="56.91" stroke="#111" stroke-width="0.9"/>
<line x1="212.00" y1="48.68" x2="213.50" y2="48.68" stroke="#111" stroke-width="0.9"/>
<line x1="212.00" y1="40.45" x2="213.50" y2="40.45" stroke="#111" stroke-width="0.9"/>
<text x="196.20" y="31.70" font-size="6.2" text-anchor="middle" font-weight="normal" fill="#222"  stroke="#222" stroke-width="0.12">RU</text>
<text transform="translate(191.40,73.10) rotate(-90) scale(0.74,1)" x="0" y="0" font-size="6.8" text-anchor="middle" font-weight="bold" fill="#1a1a1a" stroke="#1a1a1a" stroke-width="0.2">Response</text>
<text transform="translate(274.10,133.50) scale(0.66,1)" x="0" y="0" font-size="8.1" text-anchor="middle" font-weight="bold" fill="#1a1a1a" stroke="#1a1a1a" stroke-width="0.25">Time</text>
<text x="338.50" y="134.60" font-size="6.3" text-anchor="middle" font-weight="normal" fill="#222"  stroke="#222" stroke-width="0.12">S</text>
<text x="274.70" y="28.70" font-size="8.2" text-anchor="middle" font-weight="normal" fill="#1a1a1a" stroke="#1a1a1a" stroke-width="0.2">1-407</text>
<line x1="400.49" y1="101.80" x2="406.68" y2="101.80" stroke="#9a9a9a" stroke-width="1.0"/>
<path d="M406.7,101.8 L406.8,89.1 L406.9,84.9 L407.0,83.4 L407.2,82.1 L407.5,80.8 L407.9,79.3 L408.4,77.4 L409.0,75.3 L409.7,72.9 L410.7,69.9 L411.7,67.1 L412.7,64.5 L414.2,61.2 L415.7,58.3 L417.7,55.0 L419.7,52.4 L422.2,49.7 L424.7,47.5 L427.7,45.6 L430.7,44.2 L433.7,43.1 L436.6,42.3 L439.6,41.7 L442.6,41.2 L442.9,57.5 L444.1,58.9 L445.6,60.6 L447.1,62.2 L448.6,63.7 L450.1,65.2 L451.6,66.5 L453.1,67.8 L454.6,69.0 L456.1,70.2 L457.6,71.3 L459.1,72.3 L460.6,73.3 L462.1,74.3 L463.6,75.1 L465.1,76.0 L466.6,76.8 L468.1,77.5 L469.6,78.2 L471.1,78.9 L472.6,79.6 L474.1,80.2 L475.6,80.7 L477.1,81.3 L478.6,81.8 L480.1,82.3 L481.6,82.7 L483.1,83.2 L484.6,83.6 L486.1,84.0 L487.6,84.4 L489.1,84.7 L490.6,85.1 L492.1,85.4 L493.6,85.7 L495.1,86.0 L496.6,86.2 L498.1,86.5 L499.6,86.7 L501.1,87.0 L501.4,87.0" fill="none" stroke="#b4e2c0" stroke-width="1.5" stroke-linejoin="round"/>
<path d="M406.7,101.8 L406.8,89.1 L406.9,84.9 L407.0,83.4 L407.2,82.1 L407.5,80.8 L407.9,79.3 L408.4,77.4 L409.0,75.3 L409.7,72.9 L410.7,69.9 L411.7,67.1 L412.7,64.5 L414.2,61.2 L415.7,58.3 L417.7,55.0 L419.7,52.4 L422.2,49.7 L424.7,47.5 L427.7,45.6 L430.7,44.2 L433.7,43.1 L436.6,42.3 L439.6,41.7 L442.6,41.2 L442.9,57.7 L444.1,59.0 L445.6,60.6 L447.1,62.1 L448.6,63.6 L450.1,65.0 L451.6,66.3 L453.1,67.6 L454.6,68.9 L456.1,70.1 L457.6,71.2 L459.1,72.3 L460.6,73.4 L462.1,74.4 L463.6,75.3 L465.1,76.3 L466.6,77.1 L468.1,78.0 L469.6,78.8 L471.1,79.6 L472.6,80.3 L474.1,81.1 L475.6,81.8 L477.1,82.4 L478.6,83.0 L480.1,83.7 L481.6,84.2 L483.1,84.8 L484.6,85.3 L486.1,85.8 L487.6,86.3 L489.1,86.8 L490.6,87.3 L492.1,87.7 L493.6,88.1 L495.1,88.5 L496.6,88.9 L498.1,89.3 L499.6,89.6 L501.1,90.0 L501.4,90.0" fill="none" stroke="#262626" stroke-opacity="0.95" stroke-width="0.9" stroke-linejoin="round"/>
<path d="M406.7,101.8 L406.8,93.7 L406.9,92.5 L407.0,92.2 L407.2,91.9 L407.5,91.5 L407.9,91.0 L408.4,90.4 L409.0,89.7 L409.7,88.9 L410.7,87.8 L411.7,86.7 L412.7,85.7 L414.2,84.3 L415.7,83.1 L417.7,81.5 L419.7,80.1 L422.2,78.5 L424.7,77.2 L427.7,75.8 L430.7,74.6 L433.7,73.5 L436.6,72.7 L439.6,71.9 L442.6,71.3 L442.9,79.4 L444.1,80.1 L445.6,81.0 L447.1,81.8 L448.6,82.6 L450.1,83.3 L451.6,84.1 L453.1,84.8 L454.6,85.4 L456.1,86.1 L457.6,86.7 L459.1,87.3 L460.6,87.8 L462.1,88.3 L463.6,88.9 L465.1,89.3 L466.6,89.8 L468.1,90.3 L469.6,90.7 L471.1,91.1 L472.6,91.5 L474.1,91.9 L475.6,92.2 L477.1,92.6 L478.6,92.9 L480.1,93.2 L481.6,93.5 L483.1,93.8 L484.6,94.1 L486.1,94.4 L487.6,94.6 L489.1,94.8 L490.6,95.1 L492.1,95.3 L493.6,95.5 L495.1,95.7 L496.6,95.9 L498.1,96.1 L499.6,96.3 L501.1,96.5 L501.4,96.5" fill="none" stroke="#c8b4dc" stroke-width="1.5" stroke-linejoin="round"/>
<path d="M406.7,101.8 L406.8,93.7 L406.9,92.5 L407.0,92.2 L407.2,91.9 L407.5,91.5 L407.9,91.0 L408.4,90.4 L409.0,89.7 L409.7,88.9 L410.7,87.8 L411.7,86.7 L412.7,85.7 L414.2,84.3 L415.7,83.1 L417.7,81.5 L419.7,80.1 L422.2,78.5 L424.7,77.2 L427.7,75.8 L430.7,74.6 L433.7,73.5 L436.6,72.7 L439.6,71.9 L442.6,71.3 L442.9,79.4 L444.1,80.1 L445.6,81.0 L447.1,81.8 L448.6,82.6 L450.1,83.3 L451.6,84.1 L453.1,84.8 L454.6,85.4 L456.1,86.1 L457.6,86.7 L459.1,87.3 L460.6,87.8 L462.1,88.3 L463.6,88.9 L465.1,89.3 L466.6,89.8 L468.1,90.3 L469.6,90.7 L471.1,91.1 L472.6,91.5 L474.1,91.9 L475.6,92.2 L477.1,92.6 L478.6,92.9 L480.1,93.2 L481.6,93.5 L483.1,93.8 L484.6,94.1 L486.1,94.4 L487.6,94.6 L489.1,94.8 L490.6,95.1 L492.1,95.3 L493.6,95.5 L495.1,95.7 L496.6,95.9 L498.1,96.1 L499.6,96.3 L501.1,96.5 L501.4,96.5" fill="none" stroke="#262626" stroke-opacity="0.95" stroke-width="0.9" stroke-linejoin="round"/>
<path d="M406.7,101.8 L406.8,93.7 L406.9,92.5 L407.0,92.2 L407.2,92.0 L407.5,91.6 L407.9,91.2 L408.4,90.6 L409.0,90.0 L409.7,89.2 L410.7,88.2 L411.7,87.3 L412.7,86.4 L414.2,85.1 L415.7,84.0 L417.7,82.6 L419.7,81.3 L422.2,79.9 L424.7,78.7 L427.7,77.4 L430.7,76.3 L433.7,75.4 L436.6,74.6 L439.6,73.9 L442.6,73.4 L442.9,81.2 L444.1,82.2 L445.6,83.4 L447.1,84.5 L448.6,85.5 L450.1,86.5 L451.6,87.4 L453.1,88.2 L454.6,89.0 L456.1,89.7 L457.6,90.4 L459.1,91.0 L460.6,91.6 L462.1,92.2 L463.6,92.7 L465.1,93.1 L466.6,93.6 L468.1,94.0 L469.6,94.3 L471.1,94.7 L472.6,95.0 L474.1,95.3 L475.6,95.6 L477.1,95.9 L478.6,96.1 L480.1,96.3 L481.6,96.5 L483.1,96.7 L484.6,96.9 L486.1,97.1 L487.6,97.3 L489.1,97.4 L490.6,97.5 L492.1,97.7 L493.6,97.8 L495.1,97.9 L496.6,98.0 L498.1,98.1 L499.6,98.2 L501.1,98.3 L501.4,98.3" fill="none" stroke="#e4d4e0" stroke-width="1.5" stroke-linejoin="round"/>
<path d="M406.7,101.8 L406.8,93.7 L406.9,92.5 L407.0,92.2 L407.2,92.0 L407.5,91.6 L407.9,91.2 L408.4,90.6 L409.0,90.0 L409.7,89.2 L410.7,88.2 L411.7,87.3 L412.7,86.4 L414.2,85.1 L415.7,84.0 L417.7,82.6 L419.7,81.3 L422.2,79.9 L424.7,78.7 L427.7,77.4 L430.7,76.3 L433.7,75.4 L436.6,74.6 L439.6,73.9 L442.6,73.4 L442.9,81.2 L444.1,82.2 L445.6,83.4 L447.1,84.5 L448.6,85.5 L450.1,86.5 L451.6,87.4 L453.1,88.2 L454.6,89.0 L456.1,89.7 L457.6,90.4 L459.1,91.0 L460.6,91.6 L462.1,92.2 L463.6,92.7 L465.1,93.1 L466.6,93.6 L468.1,94.0 L469.6,94.3 L471.1,94.7 L472.6,95.0 L474.1,95.3 L475.6,95.6 L477.1,95.9 L478.6,96.1 L480.1,96.3 L481.6,96.5 L483.1,96.7 L484.6,96.9 L486.1,97.1 L487.6,97.3 L489.1,97.4 L490.6,97.5 L492.1,97.7 L493.6,97.8 L495.1,97.9 L496.6,98.0 L498.1,98.1 L499.6,98.2 L501.1,98.3 L501.4,98.3" fill="none" stroke="#262626" stroke-opacity="0.95" stroke-width="0.9" stroke-linejoin="round"/>
<path d="M406.7,101.8 L406.8,98.5 L406.9,98.1 L407.0,98.0 L407.2,97.9 L407.5,97.8 L407.9,97.7 L408.4,97.5 L409.0,97.3 L409.7,97.1 L410.7,96.8 L411.7,96.5 L412.7,96.2 L414.2,95.8 L415.7,95.4 L417.7,94.9 L419.7,94.3 L422.2,93.7 L424.7,93.1 L427.7,92.4 L430.7,91.7 L433.7,91.1 L436.6,90.4 L439.6,89.9 L442.6,89.3 L442.9,92.9 L444.1,93.1 L445.6,93.4 L447.1,93.6 L448.6,93.9 L450.1,94.1 L451.6,94.3 L453.1,94.5 L454.6,94.8 L456.1,95.0 L457.6,95.1 L459.1,95.3 L460.6,95.5 L462.1,95.7 L463.6,95.8 L465.1,96.0 L466.6,96.2 L468.1,96.3 L469.6,96.4 L471.1,96.6 L472.6,96.7 L474.1,96.8 L475.6,97.0 L477.1,97.1 L478.6,97.2 L480.1,97.3 L481.6,97.4 L483.1,97.5 L484.6,97.6 L486.1,97.7 L487.6,97.8 L489.1,97.9 L490.6,98.0 L492.1,98.1 L493.6,98.1 L495.1,98.2 L496.6,98.3 L498.1,98.4 L499.6,98.4 L501.1,98.5 L501.4,98.5" fill="none" stroke="#ead0b4" stroke-width="1.5" stroke-linejoin="round"/>
<path d="M406.7,101.8 L406.8,98.5 L406.9,98.1 L407.0,98.0 L407.2,97.9 L407.5,97.8 L407.9,97.7 L408.4,97.5 L409.0,97.3 L409.7,97.1 L410.7,96.8 L411.7,96.5 L412.7,96.2 L414.2,95.8 L415.7,95.4 L417.7,94.9 L419.7,94.3 L422.2,93.7 L424.7,93.1 L427.7,92.4 L430.7,91.7 L433.7,91.1 L436.6,90.4 L439.6,89.9 L442.6,89.3 L442.9,92.9 L444.1,93.1 L445.6,93.4 L447.1,93.6 L448.6,93.9 L450.1,94.1 L451.6,94.3 L453.1,94.5 L454.6,94.8 L456.1,95.0 L457.6,95.1 L459.1,95.3 L460.6,95.5 L462.1,95.7 L463.6,95.8 L465.1,96.0 L466.6,96.2 L468.1,96.3 L469.6,96.4 L471.1,96.6 L472.6,96.7 L474.1,96.8 L475.6,97.0 L477.1,97.1 L478.6,97.2 L480.1,97.3 L481.6,97.4 L483.1,97.5 L484.6,97.6 L486.1,97.7 L487.6,97.8 L489.1,97.9 L490.6,98.0 L492.1,98.1 L493.6,98.1 L495.1,98.2 L496.6,98.3 L498.1,98.4 L499.6,98.4 L501.1,98.5 L501.4,98.5" fill="none" stroke="#262626" stroke-opacity="0.95" stroke-width="0.9" stroke-linejoin="round"/>
<path d="M406.7,101.8 L406.8,100.2 L406.9,99.9 L407.0,99.9 L407.2,99.9 L407.5,99.8 L407.9,99.8 L408.4,99.8 L409.0,99.7 L409.7,99.6 L410.7,99.5 L411.7,99.4 L412.7,99.3 L414.2,99.2 L415.7,99.1 L417.7,98.9 L419.7,98.7 L422.2,98.5 L424.7,98.3 L427.7,98.1 L430.7,97.9 L433.7,97.7 L436.6,97.5 L439.6,97.3 L442.6,97.1 L443.1,98.0 L444.0,98.1 L444.8,98.2 L445.6,98.3 L446.4,98.3 L447.2,98.4 L448.0,98.4 L448.8,98.5 L449.6,98.5 L450.4,98.6 L451.2,98.6 L452.1,98.6 L452.9,98.7 L453.7,98.7 L454.5,98.7 L455.3,98.7 L456.1,98.8 L456.9,98.8 L457.7,98.8 L458.5,98.8 L459.3,98.8 L460.2,98.8 L461.0,98.8 L461.8,98.8 L462.6,98.9 L463.4,98.9 L464.2,98.9 L465.0,98.9 L465.8,98.9 L466.6,98.9 L467.5,98.9 L468.3,99.0 L469.1,99.0 L469.9,99.0 L470.7,99.0 L471.5,99.1 L472.3,99.1 L473.1,99.1 L473.9,99.2 L474.7,99.2 L475.5,99.3 L476.4,99.3 L477.2,99.3 L478.0,99.4 L478.8,99.4 L479.6,99.5 L480.4,99.5 L481.2,99.6 L482.0,99.6 L482.8,99.7 L483.6,99.7 L484.4,99.8 L485.2,99.8 L486.0,99.9 L486.8,99.9 L487.7,100.0 L488.5,100.0 L489.3,100.1 L490.1,100.1 L490.9,100.2 L491.7,100.2 L492.5,100.3 L493.3,100.3 L494.1,100.4 L494.9,100.4 L495.7,100.5 L496.5,100.5 L497.3,100.6 L498.2,100.6 L499.0,100.7 L499.8,100.7 L500.6,100.8 L501.4,100.8" fill="none" stroke="#bfe4f4" stroke-width="1.5" stroke-linejoin="round"/>
<path d="M406.7,101.8 L406.8,100.2 L406.9,99.9 L407.0,99.9 L407.2,99.9 L407.5,99.8 L407.9,99.8 L408.4,99.8 L409.0,99.7 L409.7,99.6 L410.7,99.5 L411.7,99.4 L412.7,99.3 L414.2,99.2 L415.7,99.1 L417.7,98.9 L419.7,98.7 L422.2,98.5 L424.7,98.3 L427.7,98.1 L430.7,97.9 L433.7,97.7 L436.6,97.5 L439.6,97.3 L442.6,97.1 L443.1,98.0 L444.0,98.1 L444.8,98.2 L445.6,98.3 L446.4,98.3 L447.2,98.4 L448.0,98.4 L448.8,98.5 L449.6,98.5 L450.4,98.6 L451.2,98.6 L452.1,98.6 L452.9,98.7 L453.7,98.7 L454.5,98.7 L455.3,98.7 L456.1,98.8 L456.9,98.8 L457.7,98.8 L458.5,98.8 L459.3,98.8 L460.2,98.8 L461.0,98.8 L461.8,98.8 L462.6,98.9 L463.4,98.9 L464.2,98.9 L465.0,98.9 L465.8,98.9 L466.6,98.9 L467.5,98.9 L468.3,99.0 L469.1,99.0 L469.9,99.0 L470.7,99.0 L471.5,99.1 L472.3,99.1 L473.1,99.1 L473.9,99.2 L474.7,99.2 L475.5,99.3 L476.4,99.3 L477.2,99.3 L478.0,99.4 L478.8,99.4 L479.6,99.5 L480.4,99.5 L481.2,99.6 L482.0,99.6 L482.8,99.7 L483.6,99.7 L484.4,99.8 L485.2,99.8 L486.0,99.9 L486.8,99.9 L487.7,100.0 L488.5,100.0 L489.3,100.1 L490.1,100.1 L490.9,100.2 L491.7,100.2 L492.5,100.3 L493.3,100.3 L494.1,100.4 L494.9,100.4 L495.7,100.5 L496.5,100.5 L497.3,100.6 L498.2,100.6 L499.0,100.7 L499.8,100.7 L500.6,100.8 L501.4,100.8" fill="none" stroke="#262626" stroke-opacity="0.95" stroke-width="0.9" stroke-linejoin="round"/>
<path d="M406.7,101.8 L406.8,101.8 L406.9,101.8 L407.0,101.8 L407.2,101.8 L407.5,101.8 L407.9,101.7 L408.4,101.7 L409.0,101.7 L409.7,101.6 L410.7,101.6 L411.7,101.5 L412.7,101.5 L414.2,101.4 L415.7,101.4 L417.7,101.3 L419.7,101.2 L422.2,101.1 L424.7,101.0 L427.7,100.9 L430.7,100.7 L433.7,100.6 L436.6,100.5 L439.6,100.5 L442.6,100.4 L501.4,101.6" fill="none" stroke="#f6c4f0" stroke-width="1.5" stroke-linejoin="round"/>
<path d="M406.7,101.8 L406.8,101.8 L406.9,101.8 L407.0,101.8 L407.2,101.8 L407.5,101.8 L407.9,101.7 L408.4,101.7 L409.0,101.7 L409.7,101.6 L410.7,101.6 L411.7,101.5 L412.7,101.5 L414.2,101.4 L415.7,101.4 L417.7,101.3 L419.7,101.2 L422.2,101.1 L424.7,101.0 L427.7,100.9 L430.7,100.7 L433.7,100.6 L436.6,100.5 L439.6,100.5 L442.6,100.4 L501.4,101.6" fill="none" stroke="#262626" stroke-opacity="0.95" stroke-width="0.9" stroke-linejoin="round"/>
<line x1="386.70" y1="33.60" x2="386.70" y2="111.00" stroke="#111" stroke-width="1.25"/>
<line x1="386.10" y1="110.40" x2="508.98" y2="110.40" stroke="#111" stroke-width="1.3"/>
<line x1="386.70" y1="110.40" x2="386.70" y2="112.80" stroke="#111" stroke-width="0.9"/>
<text x="386.70" y="121.30" font-size="6.1" text-anchor="middle" font-weight="normal" fill="#222"  stroke="#222" stroke-width="0.12">−200</text>
<line x1="406.68" y1="110.40" x2="406.68" y2="112.80" stroke="#111" stroke-width="0.9"/>
<text x="406.68" y="121.30" font-size="6.1" text-anchor="middle" font-weight="normal" fill="#222"  stroke="#222" stroke-width="0.12">0</text>
<line x1="426.66" y1="110.40" x2="426.66" y2="112.80" stroke="#111" stroke-width="0.9"/>
<text x="426.66" y="121.30" font-size="6.1" text-anchor="middle" font-weight="normal" fill="#222"  stroke="#222" stroke-width="0.12">200</text>
<line x1="446.64" y1="110.40" x2="446.64" y2="112.80" stroke="#111" stroke-width="0.9"/>
<text x="446.64" y="121.30" font-size="6.1" text-anchor="middle" font-weight="normal" fill="#222"  stroke="#222" stroke-width="0.12">400</text>
<line x1="466.62" y1="110.40" x2="466.62" y2="112.80" stroke="#111" stroke-width="0.9"/>
<text x="466.62" y="121.30" font-size="6.1" text-anchor="middle" font-weight="normal" fill="#222"  stroke="#222" stroke-width="0.12">600</text>
<line x1="486.60" y1="110.40" x2="486.60" y2="112.80" stroke="#111" stroke-width="0.9"/>
<text x="486.60" y="121.30" font-size="6.1" text-anchor="middle" font-weight="normal" fill="#222"  stroke="#222" stroke-width="0.12">800</text>
<line x1="506.58" y1="110.40" x2="506.58" y2="112.80" stroke="#111" stroke-width="0.9"/>
<text x="506.58" y="121.30" font-size="6.1" text-anchor="middle" font-weight="normal" fill="#222"  stroke="#222" stroke-width="0.12">1000</text>
<line x1="396.69" y1="110.40" x2="396.69" y2="111.90" stroke="#111" stroke-width="0.9"/>
<line x1="416.67" y1="110.40" x2="416.67" y2="111.90" stroke="#111" stroke-width="0.9"/>
<line x1="436.65" y1="110.40" x2="436.65" y2="111.90" stroke="#111" stroke-width="0.9"/>
<line x1="456.63" y1="110.40" x2="456.63" y2="111.90" stroke="#111" stroke-width="0.9"/>
<line x1="476.61" y1="110.40" x2="476.61" y2="111.90" stroke="#111" stroke-width="0.9"/>
<line x1="496.59" y1="110.40" x2="496.59" y2="111.90" stroke="#111" stroke-width="0.9"/>
<line x1="384.10" y1="110.40" x2="386.70" y2="110.40" stroke="#111" stroke-width="0.9"/>
<text x="381.40" y="112.55" font-size="6.1" text-anchor="end" font-weight="normal" fill="#222"  stroke="#222" stroke-width="0.12">−10</text>
<line x1="384.10" y1="95.40" x2="386.70" y2="95.40" stroke="#111" stroke-width="0.9"/>
<text x="381.40" y="97.55" font-size="6.1" text-anchor="end" font-weight="normal" fill="#222"  stroke="#222" stroke-width="0.12">10</text>
<line x1="384.10" y1="80.40" x2="386.70" y2="80.40" stroke="#111" stroke-width="0.9"/>
<text x="381.40" y="82.55" font-size="6.1" text-anchor="end" font-weight="normal" fill="#222"  stroke="#222" stroke-width="0.12">30</text>
<line x1="384.10" y1="65.40" x2="386.70" y2="65.40" stroke="#111" stroke-width="0.9"/>
<text x="381.40" y="67.55" font-size="6.1" text-anchor="end" font-weight="normal" fill="#222"  stroke="#222" stroke-width="0.12">50</text>
<line x1="384.10" y1="50.40" x2="386.70" y2="50.40" stroke="#111" stroke-width="0.9"/>
<text x="381.40" y="52.55" font-size="6.1" text-anchor="end" font-weight="normal" fill="#222"  stroke="#222" stroke-width="0.12">70</text>
<line x1="384.10" y1="35.40" x2="386.70" y2="35.40" stroke="#111" stroke-width="0.9"/>
<text x="381.40" y="37.55" font-size="6.1" text-anchor="end" font-weight="normal" fill="#222"  stroke="#222" stroke-width="0.12">90</text>
<line x1="385.20" y1="102.90" x2="386.70" y2="102.90" stroke="#111" stroke-width="0.9"/>
<line x1="385.20" y1="87.90" x2="386.70" y2="87.90" stroke="#111" stroke-width="0.9"/>
<line x1="385.20" y1="72.90" x2="386.70" y2="72.90" stroke="#111" stroke-width="0.9"/>
<line x1="385.20" y1="57.90" x2="386.70" y2="57.90" stroke="#111" stroke-width="0.9"/>
<line x1="385.20" y1="42.90" x2="386.70" y2="42.90" stroke="#111" stroke-width="0.9"/>
<text x="369.40" y="31.70" font-size="6.2" text-anchor="middle" font-weight="normal" fill="#222"  stroke="#222" stroke-width="0.12">RU</text>
<text transform="translate(364.60,73.10) rotate(-90) scale(0.74,1)" x="0" y="0" font-size="6.8" text-anchor="middle" font-weight="bold" fill="#1a1a1a" stroke="#1a1a1a" stroke-width="0.2">Response</text>
<text transform="translate(447.30,133.50) scale(0.66,1)" x="0" y="0" font-size="8.1" text-anchor="middle" font-weight="bold" fill="#1a1a1a" stroke="#1a1a1a" stroke-width="0.25">Time</text>
<text x="511.70" y="134.60" font-size="6.3" text-anchor="middle" font-weight="normal" fill="#222"  stroke="#222" stroke-width="0.12">S</text>
<text x="447.90" y="28.70" font-size="8.2" text-anchor="middle" font-weight="normal" fill="#1a1a1a" stroke="#1a1a1a" stroke-width="0.2">1-410</text>
<line x1="52.34" y1="268.20" x2="58.56" y2="268.20" stroke="#9a9a9a" stroke-width="1.0"/>
<path d="M58.6,268.2 L58.7,266.7 L58.8,265.2 L58.9,263.7 L59.1,260.9 L59.4,257.0 L59.8,252.2 L60.3,246.8 L60.9,241.1 L61.6,235.5 L62.6,229.1 L63.6,224.0 L64.6,220.1 L66.1,215.8 L67.6,212.8 L69.6,210.2 L71.6,208.7 L74.1,207.6 L76.6,207.0 L79.6,206.6 L82.6,206.4 L85.6,206.4 L88.7,206.3 L91.7,206.3 L94.7,206.3 L95.2,207.0 L96.2,208.5 L97.7,210.7 L99.2,212.7 L100.7,214.6 L102.2,216.5 L103.7,218.2 L105.2,219.9 L106.7,221.5 L108.2,223.0 L109.7,224.5 L111.2,225.9 L112.7,227.2 L114.2,228.5 L115.7,229.7 L117.2,230.8 L118.7,231.9 L120.2,232.9 L121.7,233.9 L123.3,234.9 L124.8,235.8 L126.3,236.6 L127.8,237.5 L129.3,238.2 L130.8,239.0 L132.3,239.7 L133.8,240.4 L135.3,241.0 L136.8,241.6 L138.3,242.2 L139.8,242.8 L141.3,243.3 L142.8,243.8 L144.3,244.3 L145.8,244.8 L147.3,245.2 L148.8,245.6 L150.3,246.0 L151.8,246.4 L153.3,246.8 L153.8,246.9" fill="none" stroke="#b4e2c0" stroke-width="1.5" stroke-linejoin="round"/>
<path d="M58.6,268.2 L58.7,266.7 L58.8,265.2 L58.9,263.7 L59.1,260.9 L59.4,257.0 L59.8,252.2 L60.3,246.8 L60.9,241.1 L61.6,235.5 L62.6,229.1 L63.6,224.0 L64.6,220.1 L66.1,215.8 L67.6,212.8 L69.6,210.2 L71.6,208.7 L74.1,207.6 L76.6,207.0 L79.6,206.6 L82.6,206.4 L85.6,206.4 L88.7,206.3 L91.7,206.3 L94.7,206.3 L95.2,207.0 L96.2,208.5 L97.7,210.7 L99.2,212.7 L100.7,214.6 L102.2,216.5 L103.7,218.2 L105.2,219.9 L106.7,221.5 L108.2,223.0 L109.7,224.5 L111.2,225.9 L112.7,227.2 L114.2,228.5 L115.7,229.7 L117.2,230.8 L118.7,231.9 L120.2,232.9 L121.7,233.9 L123.3,234.9 L124.8,235.8 L126.3,236.6 L127.8,237.5 L129.3,238.2 L130.8,239.0 L132.3,239.7 L133.8,240.4 L135.3,241.0 L136.8,241.6 L138.3,242.2 L139.8,242.8 L141.3,243.3 L142.8,243.8 L144.3,244.3 L145.8,244.8 L147.3,245.2 L148.8,245.6 L150.3,246.0 L151.8,246.4 L153.3,246.8 L153.8,246.9" fill="none" stroke="#262626" stroke-opacity="0.95" stroke-width="0.9" stroke-linejoin="round"/>
<path d="M58.6,268.2 L58.7,268.2 L58.8,268.2 L58.9,268.2 L59.1,267.8 L59.4,266.5 L59.8,264.9 L60.3,263.0 L60.9,260.8 L61.6,258.3 L62.6,255.1 L63.6,252.1 L64.6,249.3 L66.1,245.6 L67.6,242.4 L69.6,238.7 L71.6,235.5 L74.1,232.3 L76.6,229.7 L79.6,227.2 L82.6,225.3 L85.6,223.8 L88.7,222.7 L91.7,221.8 L94.7,221.1 L95.2,221.6 L96.2,222.5 L97.7,223.9 L99.2,225.2 L100.7,226.5 L102.2,227.7 L103.7,228.9 L105.2,230.0 L106.7,231.1 L108.2,232.2 L109.7,233.2 L111.2,234.2 L112.7,235.2 L114.2,236.1 L115.7,237.0 L117.2,237.8 L118.7,238.6 L120.2,239.4 L121.7,240.2 L123.3,240.9 L124.8,241.7 L126.3,242.3 L127.8,243.0 L129.3,243.6 L130.8,244.3 L132.3,244.8 L133.8,245.4 L135.3,246.0 L136.8,246.5 L138.3,247.0 L139.8,247.5 L141.3,248.0 L142.8,248.5 L144.3,248.9 L145.8,249.3 L147.3,249.7 L148.8,250.1 L150.3,250.5 L151.8,250.9 L153.3,251.3 L153.8,251.4" fill="none" stroke="#c8b4dc" stroke-width="1.5" stroke-linejoin="round"/>
<path d="M58.6,268.2 L58.7,268.2 L58.8,268.2 L58.9,268.2 L59.1,267.8 L59.4,266.5 L59.8,264.9 L60.3,263.0 L60.9,260.8 L61.6,258.3 L62.6,255.1 L63.6,252.1 L64.6,249.3 L66.1,245.6 L67.6,242.4 L69.6,238.7 L71.6,235.5 L74.1,232.3 L76.6,229.7 L79.6,227.2 L82.6,225.3 L85.6,223.8 L88.7,222.7 L91.7,221.8 L94.7,221.1 L95.2,221.6 L96.2,222.5 L97.7,223.9 L99.2,225.2 L100.7,226.5 L102.2,227.7 L103.7,228.9 L105.2,230.0 L106.7,231.1 L108.2,232.2 L109.7,233.2 L111.2,234.2 L112.7,235.2 L114.2,236.1 L115.7,237.0 L117.2,237.8 L118.7,238.6 L120.2,239.4 L121.7,240.2 L123.3,240.9 L124.8,241.7 L126.3,242.3 L127.8,243.0 L129.3,243.6 L130.8,244.3 L132.3,244.8 L133.8,245.4 L135.3,246.0 L136.8,246.5 L138.3,247.0 L139.8,247.5 L141.3,248.0 L142.8,248.5 L144.3,248.9 L145.8,249.3 L147.3,249.7 L148.8,250.1 L150.3,250.5 L151.8,250.9 L153.3,251.3 L153.8,251.4" fill="none" stroke="#262626" stroke-opacity="0.95" stroke-width="0.9" stroke-linejoin="round"/>
<path d="M58.6,268.2 L58.7,268.0 L58.8,267.9 L58.9,267.7 L59.1,267.3 L59.4,266.8 L59.8,266.2 L60.3,265.4 L60.9,264.5 L61.6,263.4 L62.6,262.0 L63.6,260.6 L64.6,259.3 L66.1,257.5 L67.6,255.9 L69.6,253.9 L71.6,252.1 L74.1,250.1 L76.6,248.4 L79.6,246.6 L82.6,245.1 L85.6,243.8 L88.7,242.7 L91.7,241.8 L94.7,241.0 L95.2,241.3 L96.2,241.9 L97.7,242.7 L99.2,243.6 L100.7,244.3 L102.2,245.1 L103.7,245.8 L105.2,246.5 L106.7,247.2 L108.2,247.8 L109.7,248.4 L111.2,249.0 L112.7,249.6 L114.2,250.1 L115.7,250.7 L117.2,251.2 L118.7,251.7 L120.2,252.1 L121.7,252.6 L123.3,253.0 L124.8,253.4 L126.3,253.8 L127.8,254.2 L129.3,254.6 L130.8,254.9 L132.3,255.2 L133.8,255.6 L135.3,255.9 L136.8,256.2 L138.3,256.5 L139.8,256.7 L141.3,257.0 L142.8,257.3 L144.3,257.5 L145.8,257.7 L147.3,258.0 L148.8,258.2 L150.3,258.4 L151.8,258.6 L153.3,258.8 L153.8,258.9" fill="none" stroke="#ead0b4" stroke-width="1.5" stroke-linejoin="round"/>
<path d="M58.6,268.2 L58.7,268.0 L58.8,267.9 L58.9,267.7 L59.1,267.3 L59.4,266.8 L59.8,266.2 L60.3,265.4 L60.9,264.5 L61.6,263.4 L62.6,262.0 L63.6,260.6 L64.6,259.3 L66.1,257.5 L67.6,255.9 L69.6,253.9 L71.6,252.1 L74.1,250.1 L76.6,248.4 L79.6,246.6 L82.6,245.1 L85.6,243.8 L88.7,242.7 L91.7,241.8 L94.7,241.0 L95.2,241.3 L96.2,241.9 L97.7,242.7 L99.2,243.6 L100.7,244.3 L102.2,245.1 L103.7,245.8 L105.2,246.5 L106.7,247.2 L108.2,247.8 L109.7,248.4 L111.2,249.0 L112.7,249.6 L114.2,250.1 L115.7,250.7 L117.2,251.2 L118.7,251.7 L120.2,252.1 L121.7,252.6 L123.3,253.0 L124.8,253.4 L126.3,253.8 L127.8,254.2 L129.3,254.6 L130.8,254.9 L132.3,255.2 L133.8,255.6 L135.3,255.9 L136.8,256.2 L138.3,256.5 L139.8,256.7 L141.3,257.0 L142.8,257.3 L144.3,257.5 L145.8,257.7 L147.3,258.0 L148.8,258.2 L150.3,258.4 L151.8,258.6 L153.3,258.8 L153.8,258.9" fill="none" stroke="#262626" stroke-opacity="0.95" stroke-width="0.9" stroke-linejoin="round"/>
<path d="M58.6,268.2 L58.7,268.1 L58.8,268.1 L58.9,268.0 L59.1,267.8 L59.4,267.6 L59.8,267.3 L60.3,267.0 L60.9,266.6 L61.6,266.1 L62.6,265.5 L63.6,265.0 L64.6,264.4 L66.1,263.7 L67.6,263.0 L69.6,262.1 L71.6,261.4 L74.1,260.6 L76.6,259.9 L79.6,259.2 L82.6,258.6 L85.6,258.1 L88.7,257.7 L91.7,257.4 L94.7,257.1 L95.5,257.2 L96.4,257.4 L97.2,257.5 L98.1,257.6 L98.9,257.8 L99.8,257.9 L100.6,258.0 L101.5,258.2 L102.3,258.3 L103.2,258.4 L104.0,258.6 L104.9,258.7 L105.8,258.8 L106.6,259.0 L107.4,259.1 L108.2,259.3 L109.0,259.5 L109.9,259.6 L110.7,259.8 L111.5,260.0 L112.3,260.2 L113.1,260.4 L113.9,260.5 L114.8,260.7 L115.6,260.9 L116.4,261.0 L117.2,261.2 L118.0,261.3 L118.8,261.5 L119.6,261.6 L120.5,261.7 L121.3,261.8 L122.1,261.8 L122.9,261.9 L123.7,262.0 L124.5,262.1 L125.3,262.2 L126.2,262.3 L127.0,262.4 L127.8,262.4 L128.6,262.5 L129.4,262.6 L130.2,262.6 L131.0,262.7 L131.9,262.8 L132.7,262.8 L133.5,262.9 L134.3,263.0 L135.1,263.0 L135.9,263.1 L136.7,263.1 L137.6,263.2 L138.4,263.3 L139.2,263.3 L140.0,263.4 L140.8,263.4 L141.6,263.5 L142.4,263.5 L143.3,263.6 L144.1,263.7 L144.9,263.7 L145.7,263.8 L146.5,263.8 L147.3,263.9 L148.1,263.9 L149.0,264.0 L149.8,264.1 L150.6,264.1 L151.4,264.2 L152.2,264.3 L153.0,264.3 L153.8,264.4" fill="none" stroke="#bfe4f4" stroke-width="1.5" stroke-linejoin="round"/>
<path d="M58.6,268.2 L58.7,268.1 L58.8,268.1 L58.9,268.0 L59.1,267.8 L59.4,267.6 L59.8,267.3 L60.3,267.0 L60.9,266.6 L61.6,266.1 L62.6,265.5 L63.6,265.0 L64.6,264.4 L66.1,263.7 L67.6,263.0 L69.6,262.1 L71.6,261.4 L74.1,260.6 L76.6,259.9 L79.6,259.2 L82.6,258.6 L85.6,258.1 L88.7,257.7 L91.7,257.4 L94.7,257.1 L95.5,257.2 L96.4,257.4 L97.2,257.5 L98.1,257.6 L98.9,257.8 L99.8,257.9 L100.6,258.0 L101.5,258.2 L102.3,258.3 L103.2,258.4 L104.0,258.6 L104.9,258.7 L105.8,258.8 L106.6,259.0 L107.4,259.1 L108.2,259.3 L109.0,259.5 L109.9,259.6 L110.7,259.8 L111.5,260.0 L112.3,260.2 L113.1,260.4 L113.9,260.5 L114.8,260.7 L115.6,260.9 L116.4,261.0 L117.2,261.2 L118.0,261.3 L118.8,261.5 L119.6,261.6 L120.5,261.7 L121.3,261.8 L122.1,261.8 L122.9,261.9 L123.7,262.0 L124.5,262.1 L125.3,262.2 L126.2,262.3 L127.0,262.4 L127.8,262.4 L128.6,262.5 L129.4,262.6 L130.2,262.6 L131.0,262.7 L131.9,262.8 L132.7,262.8 L133.5,262.9 L134.3,263.0 L135.1,263.0 L135.9,263.1 L136.7,263.1 L137.6,263.2 L138.4,263.3 L139.2,263.3 L140.0,263.4 L140.8,263.4 L141.6,263.5 L142.4,263.5 L143.3,263.6 L144.1,263.7 L144.9,263.7 L145.7,263.8 L146.5,263.8 L147.3,263.9 L148.1,263.9 L149.0,264.0 L149.8,264.1 L150.6,264.1 L151.4,264.2 L152.2,264.3 L153.0,264.3 L153.8,264.4" fill="none" stroke="#262626" stroke-opacity="0.95" stroke-width="0.9" stroke-linejoin="round"/>
<path d="M58.6,268.2 L58.7,268.2 L58.8,268.1 L58.9,268.1 L59.1,268.1 L59.4,268.0 L59.8,267.9 L60.3,267.7 L60.9,267.6 L61.6,267.4 L62.6,267.1 L63.6,266.9 L64.6,266.7 L66.1,266.4 L67.6,266.1 L69.6,265.8 L71.6,265.5 L74.1,265.2 L76.6,264.9 L79.6,264.6 L82.6,264.4 L85.6,264.2 L88.7,264.0 L91.7,263.9 L94.7,263.8 L95.5,263.8 L96.3,263.9 L97.1,263.9 L97.9,264.0 L98.8,264.0 L99.6,264.1 L100.4,264.1 L101.2,264.2 L102.0,264.2 L102.9,264.3 L103.7,264.3 L104.5,264.3 L105.3,264.4 L106.1,264.4 L107.0,264.5 L107.8,264.5 L108.6,264.6 L109.4,264.6 L110.2,264.7 L111.1,264.7 L111.9,264.8 L112.7,264.8 L113.5,264.8 L114.3,264.9 L115.2,264.9 L116.0,265.0 L116.8,265.0 L117.6,265.1 L118.4,265.1 L119.3,265.2 L120.1,265.2 L120.9,265.2 L121.7,265.3 L122.5,265.3 L123.4,265.4 L124.2,265.4 L125.0,265.5 L125.8,265.5 L126.6,265.5 L127.4,265.6 L128.2,265.6 L129.0,265.7 L129.8,265.7 L130.6,265.7 L131.4,265.8 L132.2,265.8 L133.0,265.9 L133.8,265.9 L134.6,265.9 L135.4,266.0 L136.2,266.0 L137.0,266.1 L137.8,266.1 L138.6,266.1 L139.4,266.2 L140.2,266.2 L141.0,266.3 L141.8,266.3 L142.6,266.3 L143.4,266.4 L144.2,266.4 L145.0,266.4 L145.8,266.5 L146.6,266.5 L147.4,266.6 L148.2,266.6 L149.0,266.6 L149.8,266.7 L150.6,266.7 L151.4,266.8 L152.2,266.8 L153.0,266.8 L153.8,266.9" fill="none" stroke="#f6c4f0" stroke-width="1.5" stroke-linejoin="round"/>
<path d="M58.6,268.2 L58.7,268.2 L58.8,268.1 L58.9,268.1 L59.1,268.1 L59.4,268.0 L59.8,267.9 L60.3,267.7 L60.9,267.6 L61.6,267.4 L62.6,267.1 L63.6,266.9 L64.6,266.7 L66.1,266.4 L67.6,266.1 L69.6,265.8 L71.6,265.5 L74.1,265.2 L76.6,264.9 L79.6,264.6 L82.6,264.4 L85.6,264.2 L88.7,264.0 L91.7,263.9 L94.7,263.8 L95.5,263.8 L96.3,263.9 L97.1,263.9 L97.9,264.0 L98.8,264.0 L99.6,264.1 L100.4,264.1 L101.2,264.2 L102.0,264.2 L102.9,264.3 L103.7,264.3 L104.5,264.3 L105.3,264.4 L106.1,264.4 L107.0,264.5 L107.8,264.5 L108.6,264.6 L109.4,264.6 L110.2,264.7 L111.1,264.7 L111.9,264.8 L112.7,264.8 L113.5,264.8 L114.3,264.9 L115.2,264.9 L116.0,265.0 L116.8,265.0 L117.6,265.1 L118.4,265.1 L119.3,265.2 L120.1,265.2 L120.9,265.2 L121.7,265.3 L122.5,265.3 L123.4,265.4 L124.2,265.4 L125.0,265.5 L125.8,265.5 L126.6,265.5 L127.4,265.6 L128.2,265.6 L129.0,265.7 L129.8,265.7 L130.6,265.7 L131.4,265.8 L132.2,265.8 L133.0,265.9 L133.8,265.9 L134.6,265.9 L135.4,266.0 L136.2,266.0 L137.0,266.1 L137.8,266.1 L138.6,266.1 L139.4,266.2 L140.2,266.2 L141.0,266.3 L141.8,266.3 L142.6,266.3 L143.4,266.4 L144.2,266.4 L145.0,266.4 L145.8,266.5 L146.6,266.5 L147.4,266.6 L148.2,266.6 L149.0,266.6 L149.8,266.7 L150.6,266.7 L151.4,266.8 L152.2,266.8 L153.0,266.8 L153.8,266.9" fill="none" stroke="#262626" stroke-opacity="0.95" stroke-width="0.9" stroke-linejoin="round"/>
<line x1="38.50" y1="199.90" x2="38.50" y2="277.60" stroke="#111" stroke-width="1.25"/>
<line x1="37.90" y1="277.00" x2="161.27" y2="277.00" stroke="#111" stroke-width="1.3"/>
<line x1="38.50" y1="277.00" x2="38.50" y2="279.40" stroke="#111" stroke-width="0.9"/>
<text x="38.50" y="287.90" font-size="6.1" text-anchor="middle" font-weight="normal" fill="#222"  stroke="#222" stroke-width="0.12">−200</text>
<line x1="58.56" y1="277.00" x2="58.56" y2="279.40" stroke="#111" stroke-width="0.9"/>
<text x="58.56" y="287.90" font-size="6.1" text-anchor="middle" font-weight="normal" fill="#222"  stroke="#222" stroke-width="0.12">0</text>
<line x1="78.62" y1="277.00" x2="78.62" y2="279.40" stroke="#111" stroke-width="0.9"/>
<text x="78.62" y="287.90" font-size="6.1" text-anchor="middle" font-weight="normal" fill="#222"  stroke="#222" stroke-width="0.12">200</text>
<line x1="98.68" y1="277.00" x2="98.68" y2="279.40" stroke="#111" stroke-width="0.9"/>
<text x="98.68" y="287.90" font-size="6.1" text-anchor="middle" font-weight="normal" fill="#222"  stroke="#222" stroke-width="0.12">400</text>
<line x1="118.74" y1="277.00" x2="118.74" y2="279.40" stroke="#111" stroke-width="0.9"/>
<text x="118.74" y="287.90" font-size="6.1" text-anchor="middle" font-weight="normal" fill="#222"  stroke="#222" stroke-width="0.12">600</text>
<line x1="138.80" y1="277.00" x2="138.80" y2="279.40" stroke="#111" stroke-width="0.9"/>
<text x="138.80" y="287.90" font-size="6.1" text-anchor="middle" font-weight="normal" fill="#222"  stroke="#222" stroke-width="0.12">800</text>
<line x1="158.86" y1="277.00" x2="158.86" y2="279.40" stroke="#111" stroke-width="0.9"/>
<text x="158.86" y="287.90" font-size="6.1" text-anchor="middle" font-weight="normal" fill="#222"  stroke="#222" stroke-width="0.12">1000</text>
<line x1="48.53" y1="277.00" x2="48.53" y2="278.50" stroke="#111" stroke-width="0.9"/>
<line x1="68.59" y1="277.00" x2="68.59" y2="278.50" stroke="#111" stroke-width="0.9"/>
<line x1="88.65" y1="277.00" x2="88.65" y2="278.50" stroke="#111" stroke-width="0.9"/>
<line x1="108.71" y1="277.00" x2="108.71" y2="278.50" stroke="#111" stroke-width="0.9"/>
<line x1="128.77" y1="277.00" x2="128.77" y2="278.50" stroke="#111" stroke-width="0.9"/>
<line x1="148.83" y1="277.00" x2="148.83" y2="278.50" stroke="#111" stroke-width="0.9"/>
<line x1="35.90" y1="277.00" x2="38.50" y2="277.00" stroke="#111" stroke-width="0.9"/>
<text x="33.20" y="279.15" font-size="6.1" text-anchor="end" font-weight="normal" fill="#222"  stroke="#222" stroke-width="0.12">−10</text>
<line x1="35.90" y1="268.70" x2="38.50" y2="268.70" stroke="#111" stroke-width="0.9"/>
<text x="33.20" y="270.85" font-size="6.1" text-anchor="end" font-weight="normal" fill="#222"  stroke="#222" stroke-width="0.12">0</text>
<line x1="35.90" y1="260.40" x2="38.50" y2="260.40" stroke="#111" stroke-width="0.9"/>
<text x="33.20" y="262.55" font-size="6.1" text-anchor="end" font-weight="normal" fill="#222"  stroke="#222" stroke-width="0.12">10</text>
<line x1="35.90" y1="252.10" x2="38.50" y2="252.10" stroke="#111" stroke-width="0.9"/>
<text x="33.20" y="254.25" font-size="6.1" text-anchor="end" font-weight="normal" fill="#222"  stroke="#222" stroke-width="0.12">20</text>
<line x1="35.90" y1="243.80" x2="38.50" y2="243.80" stroke="#111" stroke-width="0.9"/>
<text x="33.20" y="245.95" font-size="6.1" text-anchor="end" font-weight="normal" fill="#222"  stroke="#222" stroke-width="0.12">30</text>
<line x1="35.90" y1="235.50" x2="38.50" y2="235.50" stroke="#111" stroke-width="0.9"/>
<text x="33.20" y="237.65" font-size="6.1" text-anchor="end" font-weight="normal" fill="#222"  stroke="#222" stroke-width="0.12">40</text>
<line x1="35.90" y1="227.20" x2="38.50" y2="227.20" stroke="#111" stroke-width="0.9"/>
<text x="33.20" y="229.35" font-size="6.1" text-anchor="end" font-weight="normal" fill="#222"  stroke="#222" stroke-width="0.12">50</text>
<line x1="35.90" y1="218.90" x2="38.50" y2="218.90" stroke="#111" stroke-width="0.9"/>
<text x="33.20" y="221.05" font-size="6.1" text-anchor="end" font-weight="normal" fill="#222"  stroke="#222" stroke-width="0.12">60</text>
<line x1="35.90" y1="210.60" x2="38.50" y2="210.60" stroke="#111" stroke-width="0.9"/>
<text x="33.20" y="212.75" font-size="6.1" text-anchor="end" font-weight="normal" fill="#222"  stroke="#222" stroke-width="0.12">70</text>
<line x1="35.90" y1="202.30" x2="38.50" y2="202.30" stroke="#111" stroke-width="0.9"/>
<text x="33.20" y="204.45" font-size="6.1" text-anchor="end" font-weight="normal" fill="#222"  stroke="#222" stroke-width="0.12">80</text>
<line x1="37.00" y1="272.85" x2="38.50" y2="272.85" stroke="#111" stroke-width="0.9"/>
<line x1="37.00" y1="264.55" x2="38.50" y2="264.55" stroke="#111" stroke-width="0.9"/>
<line x1="37.00" y1="256.25" x2="38.50" y2="256.25" stroke="#111" stroke-width="0.9"/>
<line x1="37.00" y1="247.95" x2="38.50" y2="247.95" stroke="#111" stroke-width="0.9"/>
<line x1="37.00" y1="239.65" x2="38.50" y2="239.65" stroke="#111" stroke-width="0.9"/>
<line x1="37.00" y1="231.35" x2="38.50" y2="231.35" stroke="#111" stroke-width="0.9"/>
<line x1="37.00" y1="223.05" x2="38.50" y2="223.05" stroke="#111" stroke-width="0.9"/>
<line x1="37.00" y1="214.75" x2="38.50" y2="214.75" stroke="#111" stroke-width="0.9"/>
<line x1="37.00" y1="206.45" x2="38.50" y2="206.45" stroke="#111" stroke-width="0.9"/>
<text x="21.20" y="198.30" font-size="6.2" text-anchor="middle" font-weight="normal" fill="#222"  stroke="#222" stroke-width="0.12">RU</text>
<text transform="translate(16.40,239.70) rotate(-90) scale(0.74,1)" x="0" y="0" font-size="6.8" text-anchor="middle" font-weight="bold" fill="#1a1a1a" stroke="#1a1a1a" stroke-width="0.2">Response</text>
<text transform="translate(99.10,300.10) scale(0.66,1)" x="0" y="0" font-size="8.1" text-anchor="middle" font-weight="bold" fill="#1a1a1a" stroke="#1a1a1a" stroke-width="0.25">Time</text>
<text x="163.50" y="301.20" font-size="6.3" text-anchor="middle" font-weight="normal" fill="#222"  stroke="#222" stroke-width="0.12">S</text>
<text x="99.70" y="195.30" font-size="8.2" text-anchor="middle" font-weight="normal" fill="#1a1a1a" stroke="#1a1a1a" stroke-width="0.2">1-440</text>
<line x1="227.19" y1="268.20" x2="233.34" y2="268.20" stroke="#9a9a9a" stroke-width="1.0"/>
<path d="M233.3,268.2 L233.4,268.2 L233.5,268.2 L233.6,267.7 L233.8,266.2 L234.1,263.9 L234.5,261.0 L235.0,257.6 L235.6,253.8 L236.3,249.7 L237.3,244.4 L238.3,239.7 L239.3,235.5 L240.8,230.2 L242.3,225.7 L244.3,221.0 L246.2,217.2 L248.7,213.6 L251.2,211.0 L254.2,208.8 L257.1,207.2 L260.1,206.1 L263.1,205.4 L266.1,204.9 L269.1,204.5 L328.6,208.4" fill="none" stroke="#b4e2c0" stroke-width="1.5" stroke-linejoin="round"/>
<path d="M233.3,268.2 L233.4,268.2 L233.5,268.2 L233.6,267.7 L233.8,266.2 L234.1,263.9 L234.5,261.0 L235.0,257.6 L235.6,253.8 L236.3,249.7 L237.3,244.4 L238.3,239.7 L239.3,235.5 L240.8,230.2 L242.3,225.7 L244.3,221.0 L246.2,217.2 L248.7,213.6 L251.2,211.0 L254.2,208.8 L257.1,207.2 L260.1,206.1 L263.1,205.4 L266.1,204.9 L269.1,204.5 L328.6,208.4" fill="none" stroke="#262626" stroke-opacity="0.95" stroke-width="0.9" stroke-linejoin="round"/>
<path d="M233.3,268.2 L233.4,268.2 L233.5,268.2 L233.6,268.2 L233.8,268.2 L234.1,268.1 L234.5,267.0 L235.0,265.7 L235.6,264.2 L236.3,262.6 L237.3,260.2 L238.3,258.1 L239.3,256.0 L240.8,253.1 L242.3,250.4 L244.3,247.1 L246.2,244.1 L248.7,240.8 L251.2,237.9 L254.2,234.9 L257.1,232.4 L260.1,230.2 L263.1,228.3 L266.1,226.7 L269.1,225.3 L328.6,228.4" fill="none" stroke="#c8b4dc" stroke-width="1.5" stroke-linejoin="round"/>
<path d="M233.3,268.2 L233.4,268.2 L233.5,268.2 L233.6,268.2 L233.8,268.2 L234.1,268.1 L234.5,267.0 L235.0,265.7 L235.6,264.2 L236.3,262.6 L237.3,260.2 L238.3,258.1 L239.3,256.0 L240.8,253.1 L242.3,250.4 L244.3,247.1 L246.2,244.1 L248.7,240.8 L251.2,237.9 L254.2,234.9 L257.1,232.4 L260.1,230.2 L263.1,228.3 L266.1,226.7 L269.1,225.3 L328.6,228.4" fill="none" stroke="#262626" stroke-opacity="0.95" stroke-width="0.9" stroke-linejoin="round"/>
<path d="M233.3,268.2 L233.4,268.1 L233.5,268.1 L233.6,268.0 L233.8,267.8 L234.1,267.6 L234.5,267.3 L235.0,267.0 L235.6,266.6 L236.3,266.1 L237.3,265.4 L238.3,264.7 L239.3,264.0 L240.8,263.0 L242.3,262.1 L244.3,260.8 L246.2,259.6 L248.7,258.2 L251.2,256.8 L254.2,255.2 L257.1,253.6 L260.1,252.2 L263.1,250.8 L266.1,249.5 L269.1,248.2 L328.6,249.6" fill="none" stroke="#ead0b4" stroke-width="1.5" stroke-linejoin="round"/>
<path d="M233.3,268.2 L233.4,268.1 L233.5,268.1 L233.6,268.0 L233.8,267.8 L234.1,267.6 L234.5,267.3 L235.0,267.0 L235.6,266.6 L236.3,266.1 L237.3,265.4 L238.3,264.7 L239.3,264.0 L240.8,263.0 L242.3,262.1 L244.3,260.8 L246.2,259.6 L248.7,258.2 L251.2,256.8 L254.2,255.2 L257.1,253.6 L260.1,252.2 L263.1,250.8 L266.1,249.5 L269.1,248.2 L328.6,249.6" fill="none" stroke="#262626" stroke-opacity="0.95" stroke-width="0.9" stroke-linejoin="round"/>
<path d="M233.3,268.2 L233.4,268.2 L233.5,268.2 L233.6,268.2 L233.8,268.2 L234.1,268.1 L234.5,268.0 L235.0,267.9 L235.6,267.8 L236.3,267.6 L237.3,267.4 L238.3,267.2 L239.3,267.0 L240.8,266.6 L242.3,266.3 L244.3,265.8 L246.2,265.4 L248.7,264.8 L251.2,264.3 L254.2,263.7 L257.1,263.0 L260.1,262.4 L263.1,261.7 L266.1,261.1 L269.1,260.5 L328.6,261.4" fill="none" stroke="#bfe4f4" stroke-width="1.5" stroke-linejoin="round"/>
<path d="M233.3,268.2 L233.4,268.2 L233.5,268.2 L233.6,268.2 L233.8,268.2 L234.1,268.1 L234.5,268.0 L235.0,267.9 L235.6,267.8 L236.3,267.6 L237.3,267.4 L238.3,267.2 L239.3,267.0 L240.8,266.6 L242.3,266.3 L244.3,265.8 L246.2,265.4 L248.7,264.8 L251.2,264.3 L254.2,263.7 L257.1,263.0 L260.1,262.4 L263.1,261.7 L266.1,261.1 L269.1,260.5 L328.6,261.4" fill="none" stroke="#262626" stroke-opacity="0.95" stroke-width="0.9" stroke-linejoin="round"/>
<line x1="213.50" y1="199.90" x2="213.50" y2="277.60" stroke="#111" stroke-width="1.25"/>
<line x1="212.90" y1="277.00" x2="334.92" y2="277.00" stroke="#111" stroke-width="1.3"/>
<line x1="213.50" y1="277.00" x2="213.50" y2="279.40" stroke="#111" stroke-width="0.9"/>
<text x="213.50" y="287.90" font-size="6.1" text-anchor="middle" font-weight="normal" fill="#222"  stroke="#222" stroke-width="0.12">−200</text>
<line x1="233.34" y1="277.00" x2="233.34" y2="279.40" stroke="#111" stroke-width="0.9"/>
<text x="233.34" y="287.90" font-size="6.1" text-anchor="middle" font-weight="normal" fill="#222"  stroke="#222" stroke-width="0.12">0</text>
<line x1="253.18" y1="277.00" x2="253.18" y2="279.40" stroke="#111" stroke-width="0.9"/>
<text x="253.18" y="287.90" font-size="6.1" text-anchor="middle" font-weight="normal" fill="#222"  stroke="#222" stroke-width="0.12">200</text>
<line x1="273.02" y1="277.00" x2="273.02" y2="279.40" stroke="#111" stroke-width="0.9"/>
<text x="273.02" y="287.90" font-size="6.1" text-anchor="middle" font-weight="normal" fill="#222"  stroke="#222" stroke-width="0.12">400</text>
<line x1="292.86" y1="277.00" x2="292.86" y2="279.40" stroke="#111" stroke-width="0.9"/>
<text x="292.86" y="287.90" font-size="6.1" text-anchor="middle" font-weight="normal" fill="#222"  stroke="#222" stroke-width="0.12">600</text>
<line x1="312.70" y1="277.00" x2="312.70" y2="279.40" stroke="#111" stroke-width="0.9"/>
<text x="312.70" y="287.90" font-size="6.1" text-anchor="middle" font-weight="normal" fill="#222"  stroke="#222" stroke-width="0.12">800</text>
<line x1="332.54" y1="277.00" x2="332.54" y2="279.40" stroke="#111" stroke-width="0.9"/>
<text x="332.54" y="287.90" font-size="6.1" text-anchor="middle" font-weight="normal" fill="#222"  stroke="#222" stroke-width="0.12">1000</text>
<line x1="223.42" y1="277.00" x2="223.42" y2="278.50" stroke="#111" stroke-width="0.9"/>
<line x1="243.26" y1="277.00" x2="243.26" y2="278.50" stroke="#111" stroke-width="0.9"/>
<line x1="263.10" y1="277.00" x2="263.10" y2="278.50" stroke="#111" stroke-width="0.9"/>
<line x1="282.94" y1="277.00" x2="282.94" y2="278.50" stroke="#111" stroke-width="0.9"/>
<line x1="302.78" y1="277.00" x2="302.78" y2="278.50" stroke="#111" stroke-width="0.9"/>
<line x1="322.62" y1="277.00" x2="322.62" y2="278.50" stroke="#111" stroke-width="0.9"/>
<line x1="210.90" y1="277.00" x2="213.50" y2="277.00" stroke="#111" stroke-width="0.9"/>
<text x="208.20" y="279.15" font-size="6.1" text-anchor="end" font-weight="normal" fill="#222"  stroke="#222" stroke-width="0.12">−10</text>
<line x1="210.90" y1="268.70" x2="213.50" y2="268.70" stroke="#111" stroke-width="0.9"/>
<text x="208.20" y="270.85" font-size="6.1" text-anchor="end" font-weight="normal" fill="#222"  stroke="#222" stroke-width="0.12">0</text>
<line x1="210.90" y1="260.40" x2="213.50" y2="260.40" stroke="#111" stroke-width="0.9"/>
<text x="208.20" y="262.55" font-size="6.1" text-anchor="end" font-weight="normal" fill="#222"  stroke="#222" stroke-width="0.12">10</text>
<line x1="210.90" y1="252.10" x2="213.50" y2="252.10" stroke="#111" stroke-width="0.9"/>
<text x="208.20" y="254.25" font-size="6.1" text-anchor="end" font-weight="normal" fill="#222"  stroke="#222" stroke-width="0.12">20</text>
<line x1="210.90" y1="243.80" x2="213.50" y2="243.80" stroke="#111" stroke-width="0.9"/>
<text x="208.20" y="245.95" font-size="6.1" text-anchor="end" font-weight="normal" fill="#222"  stroke="#222" stroke-width="0.12">30</text>
<line x1="210.90" y1="235.50" x2="213.50" y2="235.50" stroke="#111" stroke-width="0.9"/>
<text x="208.20" y="237.65" font-size="6.1" text-anchor="end" font-weight="normal" fill="#222"  stroke="#222" stroke-width="0.12">40</text>
<line x1="210.90" y1="227.20" x2="213.50" y2="227.20" stroke="#111" stroke-width="0.9"/>
<text x="208.20" y="229.35" font-size="6.1" text-anchor="end" font-weight="normal" fill="#222"  stroke="#222" stroke-width="0.12">50</text>
<line x1="210.90" y1="218.90" x2="213.50" y2="218.90" stroke="#111" stroke-width="0.9"/>
<text x="208.20" y="221.05" font-size="6.1" text-anchor="end" font-weight="normal" fill="#222"  stroke="#222" stroke-width="0.12">60</text>
<line x1="210.90" y1="210.60" x2="213.50" y2="210.60" stroke="#111" stroke-width="0.9"/>
<text x="208.20" y="212.75" font-size="6.1" text-anchor="end" font-weight="normal" fill="#222"  stroke="#222" stroke-width="0.12">70</text>
<line x1="210.90" y1="202.30" x2="213.50" y2="202.30" stroke="#111" stroke-width="0.9"/>
<text x="208.20" y="204.45" font-size="6.1" text-anchor="end" font-weight="normal" fill="#222"  stroke="#222" stroke-width="0.12">80</text>
<line x1="212.00" y1="272.85" x2="213.50" y2="272.85" stroke="#111" stroke-width="0.9"/>
<line x1="212.00" y1="264.55" x2="213.50" y2="264.55" stroke="#111" stroke-width="0.9"/>
<line x1="212.00" y1="256.25" x2="213.50" y2="256.25" stroke="#111" stroke-width="0.9"/>
<line x1="212.00" y1="247.95" x2="213.50" y2="247.95" stroke="#111" stroke-width="0.9"/>
<line x1="212.00" y1="239.65" x2="213.50" y2="239.65" stroke="#111" stroke-width="0.9"/>
<line x1="212.00" y1="231.35" x2="213.50" y2="231.35" stroke="#111" stroke-width="0.9"/>
<line x1="212.00" y1="223.05" x2="213.50" y2="223.05" stroke="#111" stroke-width="0.9"/>
<line x1="212.00" y1="214.75" x2="213.50" y2="214.75" stroke="#111" stroke-width="0.9"/>
<line x1="212.00" y1="206.45" x2="213.50" y2="206.45" stroke="#111" stroke-width="0.9"/>
<text x="196.20" y="198.30" font-size="6.2" text-anchor="middle" font-weight="normal" fill="#222"  stroke="#222" stroke-width="0.12">RU</text>
<text transform="translate(191.40,239.70) rotate(-90) scale(0.74,1)" x="0" y="0" font-size="6.8" text-anchor="middle" font-weight="bold" fill="#1a1a1a" stroke="#1a1a1a" stroke-width="0.2">Response</text>
<text transform="translate(274.10,300.10) scale(0.66,1)" x="0" y="0" font-size="8.1" text-anchor="middle" font-weight="bold" fill="#1a1a1a" stroke="#1a1a1a" stroke-width="0.25">Time</text>
<text x="338.50" y="301.20" font-size="6.3" text-anchor="middle" font-weight="normal" fill="#222"  stroke="#222" stroke-width="0.12">S</text>
<text x="274.70" y="195.30" font-size="8.2" text-anchor="middle" font-weight="normal" fill="#1a1a1a" stroke="#1a1a1a" stroke-width="0.2">1-441</text>
<line x1="400.49" y1="268.20" x2="406.68" y2="268.20" stroke="#9a9a9a" stroke-width="1.0"/>
<path d="M406.7,268.2 L406.8,266.6 L406.9,265.1 L407.0,263.6 L407.2,261.0 L407.5,257.5 L407.9,253.4 L408.4,249.2 L409.0,245.0 L409.7,240.9 L410.7,236.1 L411.7,232.2 L412.7,228.9 L414.2,224.9 L415.7,221.9 L417.7,218.8 L419.7,216.7 L422.2,214.8 L424.7,213.6 L427.7,212.7 L430.7,212.2 L433.7,211.8 L436.6,211.6 L439.6,211.5 L442.6,211.5 L443.1,212.1 L444.1,213.3 L445.6,215.0 L447.1,216.7 L448.6,218.3 L450.1,219.9 L451.6,221.4 L453.1,222.8 L454.6,224.1 L456.1,225.4 L457.6,226.7 L459.1,227.9 L460.6,229.0 L462.1,230.1 L463.6,231.2 L465.1,232.2 L466.6,233.1 L468.1,234.1 L469.6,235.0 L471.1,235.8 L472.6,236.6 L474.1,237.4 L475.6,238.1 L477.1,238.9 L478.6,239.5 L480.1,240.2 L481.6,240.8 L483.1,241.4 L484.6,242.0 L486.1,242.5 L487.6,243.1 L489.1,243.6 L490.6,244.1 L492.1,244.5 L493.6,245.0 L495.1,245.4 L496.6,245.8 L498.1,246.2 L499.6,246.6 L501.1,246.9 L501.4,247.0" fill="none" stroke="#b4e2c0" stroke-width="2.0" stroke-linejoin="round"/>
<path d="M406.7,268.2 L406.8,266.6 L406.9,265.1 L407.0,263.6 L407.2,261.0 L407.5,257.5 L407.9,253.4 L408.4,249.2 L409.0,245.0 L409.7,240.9 L410.7,236.1 L411.7,232.2 L412.7,228.9 L414.2,224.9 L415.7,221.9 L417.7,218.8 L419.7,216.7 L422.2,214.8 L424.7,213.6 L427.7,212.7 L430.7,212.2 L433.7,211.8 L436.6,211.6 L439.6,211.5 L442.6,211.5 L443.1,212.1 L444.1,213.3 L445.6,215.0 L447.1,216.7 L448.6,218.3 L450.1,219.9 L451.6,221.4 L453.1,222.8 L454.6,224.1 L456.1,225.4 L457.6,226.7 L459.1,227.9 L460.6,229.0 L462.1,230.1 L463.6,231.2 L465.1,232.2 L466.6,233.1 L468.1,234.1 L469.6,235.0 L471.1,235.8 L472.6,236.6 L474.1,237.4 L475.6,238.1 L477.1,238.9 L478.6,239.5 L480.1,240.2 L481.6,240.8 L483.1,241.4 L484.6,242.0 L486.1,242.5 L487.6,243.1 L489.1,243.6 L490.6,244.1 L492.1,244.5 L493.6,245.0 L495.1,245.4 L496.6,245.8 L498.1,246.2 L499.6,246.6 L501.1,246.9 L501.4,247.0" fill="none" stroke="#262626" stroke-opacity="0.95" stroke-width="0.9" stroke-linejoin="round"/>
<path d="M406.7,268.2 L406.8,267.8 L406.9,267.4 L407.0,267.1 L407.2,266.3 L407.5,265.3 L407.9,263.9 L408.4,262.2 L409.0,260.3 L409.7,258.2 L410.7,255.4 L411.7,252.9 L412.7,250.5 L414.2,247.4 L415.7,244.7 L417.7,241.6 L419.7,239.0 L422.2,236.4 L424.7,234.2 L427.7,232.3 L430.7,230.8 L433.7,229.6 L436.6,228.7 L439.6,228.0 L442.6,227.5 L443.1,227.9 L444.1,228.6 L445.6,229.7 L447.1,230.8 L448.6,231.8 L450.1,232.8 L451.6,233.7 L453.1,234.7 L454.6,235.5 L456.1,236.4 L457.6,237.2 L459.1,238.1 L460.6,238.8 L462.1,239.6 L463.6,240.3 L465.1,241.0 L466.6,241.7 L468.1,242.4 L469.6,243.0 L471.1,243.6 L472.6,244.2 L474.1,244.8 L475.6,245.4 L477.1,245.9 L478.6,246.5 L480.1,247.0 L481.6,247.5 L483.1,247.9 L484.6,248.4 L486.1,248.8 L487.6,249.3 L489.1,249.7 L490.6,250.1 L492.1,250.5 L493.6,250.9 L495.1,251.2 L496.6,251.6 L498.1,251.9 L499.6,252.3 L501.1,252.6 L501.4,252.7" fill="none" stroke="#c8b4dc" stroke-width="2.0" stroke-linejoin="round"/>
<path d="M406.7,268.2 L406.8,267.8 L406.9,267.4 L407.0,267.1 L407.2,266.3 L407.5,265.3 L407.9,263.9 L408.4,262.2 L409.0,260.3 L409.7,258.2 L410.7,255.4 L411.7,252.9 L412.7,250.5 L414.2,247.4 L415.7,244.7 L417.7,241.6 L419.7,239.0 L422.2,236.4 L424.7,234.2 L427.7,232.3 L430.7,230.8 L433.7,229.6 L436.6,228.7 L439.6,228.0 L442.6,227.5 L443.1,227.9 L444.1,228.6 L445.6,229.7 L447.1,230.8 L448.6,231.8 L450.1,232.8 L451.6,233.7 L453.1,234.7 L454.6,235.5 L456.1,236.4 L457.6,237.2 L459.1,238.1 L460.6,238.8 L462.1,239.6 L463.6,240.3 L465.1,241.0 L466.6,241.7 L468.1,242.4 L469.6,243.0 L471.1,243.6 L472.6,244.2 L474.1,244.8 L475.6,245.4 L477.1,245.9 L478.6,246.5 L480.1,247.0 L481.6,247.5 L483.1,247.9 L484.6,248.4 L486.1,248.8 L487.6,249.3 L489.1,249.7 L490.6,250.1 L492.1,250.5 L493.6,250.9 L495.1,251.2 L496.6,251.6 L498.1,251.9 L499.6,252.3 L501.1,252.6 L501.4,252.7" fill="none" stroke="#262626" stroke-opacity="0.95" stroke-width="0.9" stroke-linejoin="round"/>
<path d="M406.7,268.2 L406.8,268.0 L406.9,267.8 L407.0,267.6 L407.2,267.3 L407.5,266.8 L407.9,266.1 L408.4,265.2 L409.0,264.3 L409.7,263.2 L410.7,261.8 L411.7,260.5 L412.7,259.3 L414.2,257.7 L415.7,256.3 L417.7,254.6 L419.7,253.2 L422.2,251.7 L424.7,250.5 L427.7,249.3 L430.7,248.4 L433.7,247.6 L436.6,247.1 L439.6,246.6 L442.6,246.3 L443.1,246.4 L444.1,246.8 L445.6,247.3 L447.1,247.9 L448.6,248.4 L450.1,248.8 L451.6,249.3 L453.1,249.8 L454.6,250.2 L456.1,250.7 L457.6,251.1 L459.1,251.5 L460.6,251.9 L462.1,252.3 L463.6,252.7 L465.1,253.0 L466.6,253.4 L468.1,253.7 L469.6,254.1 L471.1,254.4 L472.6,254.7 L474.1,255.1 L475.6,255.4 L477.1,255.7 L478.6,255.9 L480.1,256.2 L481.6,256.5 L483.1,256.8 L484.6,257.0 L486.1,257.3 L487.6,257.5 L489.1,257.7 L490.6,258.0 L492.1,258.2 L493.6,258.4 L495.1,258.6 L496.6,258.8 L498.1,259.0 L499.6,259.2 L501.1,259.4 L501.4,259.5" fill="none" stroke="#ead0b4" stroke-width="2.0" stroke-linejoin="round"/>
<path d="M406.7,268.2 L406.8,268.0 L406.9,267.8 L407.0,267.6 L407.2,267.3 L407.5,266.8 L407.9,266.1 L408.4,265.2 L409.0,264.3 L409.7,263.2 L410.7,261.8 L411.7,260.5 L412.7,259.3 L414.2,257.7 L415.7,256.3 L417.7,254.6 L419.7,253.2 L422.2,251.7 L424.7,250.5 L427.7,249.3 L430.7,248.4 L433.7,247.6 L436.6,247.1 L439.6,246.6 L442.6,246.3 L443.1,246.4 L444.1,246.8 L445.6,247.3 L447.1,247.9 L448.6,248.4 L450.1,248.8 L451.6,249.3 L453.1,249.8 L454.6,250.2 L456.1,250.7 L457.6,251.1 L459.1,251.5 L460.6,251.9 L462.1,252.3 L463.6,252.7 L465.1,253.0 L466.6,253.4 L468.1,253.7 L469.6,254.1 L471.1,254.4 L472.6,254.7 L474.1,255.1 L475.6,255.4 L477.1,255.7 L478.6,255.9 L480.1,256.2 L481.6,256.5 L483.1,256.8 L484.6,257.0 L486.1,257.3 L487.6,257.5 L489.1,257.7 L490.6,258.0 L492.1,258.2 L493.6,258.4 L495.1,258.6 L496.6,258.8 L498.1,259.0 L499.6,259.2 L501.1,259.4 L501.4,259.5" fill="none" stroke="#262626" stroke-opacity="0.95" stroke-width="0.9" stroke-linejoin="round"/>
<line x1="386.70" y1="199.90" x2="386.70" y2="277.60" stroke="#111" stroke-width="1.25"/>
<line x1="386.10" y1="277.00" x2="508.98" y2="277.00" stroke="#111" stroke-width="1.3"/>
<line x1="386.70" y1="277.00" x2="386.70" y2="279.40" stroke="#111" stroke-width="0.9"/>
<text x="386.70" y="287.90" font-size="6.1" text-anchor="middle" font-weight="normal" fill="#222"  stroke="#222" stroke-width="0.12">−200</text>
<line x1="406.68" y1="277.00" x2="406.68" y2="279.40" stroke="#111" stroke-width="0.9"/>
<text x="406.68" y="287.90" font-size="6.1" text-anchor="middle" font-weight="normal" fill="#222"  stroke="#222" stroke-width="0.12">0</text>
<line x1="426.66" y1="277.00" x2="426.66" y2="279.40" stroke="#111" stroke-width="0.9"/>
<text x="426.66" y="287.90" font-size="6.1" text-anchor="middle" font-weight="normal" fill="#222"  stroke="#222" stroke-width="0.12">200</text>
<line x1="446.64" y1="277.00" x2="446.64" y2="279.40" stroke="#111" stroke-width="0.9"/>
<text x="446.64" y="287.90" font-size="6.1" text-anchor="middle" font-weight="normal" fill="#222"  stroke="#222" stroke-width="0.12">400</text>
<line x1="466.62" y1="277.00" x2="466.62" y2="279.40" stroke="#111" stroke-width="0.9"/>
<text x="466.62" y="287.90" font-size="6.1" text-anchor="middle" font-weight="normal" fill="#222"  stroke="#222" stroke-width="0.12">600</text>
<line x1="486.60" y1="277.00" x2="486.60" y2="279.40" stroke="#111" stroke-width="0.9"/>
<text x="486.60" y="287.90" font-size="6.1" text-anchor="middle" font-weight="normal" fill="#222"  stroke="#222" stroke-width="0.12">800</text>
<line x1="506.58" y1="277.00" x2="506.58" y2="279.40" stroke="#111" stroke-width="0.9"/>
<text x="506.58" y="287.90" font-size="6.1" text-anchor="middle" font-weight="normal" fill="#222"  stroke="#222" stroke-width="0.12">1000</text>
<line x1="396.69" y1="277.00" x2="396.69" y2="278.50" stroke="#111" stroke-width="0.9"/>
<line x1="416.67" y1="277.00" x2="416.67" y2="278.50" stroke="#111" stroke-width="0.9"/>
<line x1="436.65" y1="277.00" x2="436.65" y2="278.50" stroke="#111" stroke-width="0.9"/>
<line x1="456.63" y1="277.00" x2="456.63" y2="278.50" stroke="#111" stroke-width="0.9"/>
<line x1="476.61" y1="277.00" x2="476.61" y2="278.50" stroke="#111" stroke-width="0.9"/>
<line x1="496.59" y1="277.00" x2="496.59" y2="278.50" stroke="#111" stroke-width="0.9"/>
<line x1="384.10" y1="277.00" x2="386.70" y2="277.00" stroke="#111" stroke-width="0.9"/>
<text x="381.40" y="279.15" font-size="6.1" text-anchor="end" font-weight="normal" fill="#222"  stroke="#222" stroke-width="0.12">−10</text>
<line x1="384.10" y1="268.70" x2="386.70" y2="268.70" stroke="#111" stroke-width="0.9"/>
<text x="381.40" y="270.85" font-size="6.1" text-anchor="end" font-weight="normal" fill="#222"  stroke="#222" stroke-width="0.12">0</text>
<line x1="384.10" y1="260.40" x2="386.70" y2="260.40" stroke="#111" stroke-width="0.9"/>
<text x="381.40" y="262.55" font-size="6.1" text-anchor="end" font-weight="normal" fill="#222"  stroke="#222" stroke-width="0.12">10</text>
<line x1="384.10" y1="252.10" x2="386.70" y2="252.10" stroke="#111" stroke-width="0.9"/>
<text x="381.40" y="254.25" font-size="6.1" text-anchor="end" font-weight="normal" fill="#222"  stroke="#222" stroke-width="0.12">20</text>
<line x1="384.10" y1="243.80" x2="386.70" y2="243.80" stroke="#111" stroke-width="0.9"/>
<text x="381.40" y="245.95" font-size="6.1" text-anchor="end" font-weight="normal" fill="#222"  stroke="#222" stroke-width="0.12">30</text>
<line x1="384.10" y1="235.50" x2="386.70" y2="235.50" stroke="#111" stroke-width="0.9"/>
<text x="381.40" y="237.65" font-size="6.1" text-anchor="end" font-weight="normal" fill="#222"  stroke="#222" stroke-width="0.12">40</text>
<line x1="384.10" y1="227.20" x2="386.70" y2="227.20" stroke="#111" stroke-width="0.9"/>
<text x="381.40" y="229.35" font-size="6.1" text-anchor="end" font-weight="normal" fill="#222"  stroke="#222" stroke-width="0.12">50</text>
<line x1="384.10" y1="218.90" x2="386.70" y2="218.90" stroke="#111" stroke-width="0.9"/>
<text x="381.40" y="221.05" font-size="6.1" text-anchor="end" font-weight="normal" fill="#222"  stroke="#222" stroke-width="0.12">60</text>
<line x1="384.10" y1="210.60" x2="386.70" y2="210.60" stroke="#111" stroke-width="0.9"/>
<text x="381.40" y="212.75" font-size="6.1" text-anchor="end" font-weight="normal" fill="#222"  stroke="#222" stroke-width="0.12">70</text>
<line x1="384.10" y1="202.30" x2="386.70" y2="202.30" stroke="#111" stroke-width="0.9"/>
<text x="381.40" y="204.45" font-size="6.1" text-anchor="end" font-weight="normal" fill="#222"  stroke="#222" stroke-width="0.12">80</text>
<line x1="385.20" y1="272.85" x2="386.70" y2="272.85" stroke="#111" stroke-width="0.9"/>
<line x1="385.20" y1="264.55" x2="386.70" y2="264.55" stroke="#111" stroke-width="0.9"/>
<line x1="385.20" y1="256.25" x2="386.70" y2="256.25" stroke="#111" stroke-width="0.9"/>
<line x1="385.20" y1="247.95" x2="386.70" y2="247.95" stroke="#111" stroke-width="0.9"/>
<line x1="385.20" y1="239.65" x2="386.70" y2="239.65" stroke="#111" stroke-width="0.9"/>
<line x1="385.20" y1="231.35" x2="386.70" y2="231.35" stroke="#111" stroke-width="0.9"/>
<line x1="385.20" y1="223.05" x2="386.70" y2="223.05" stroke="#111" stroke-width="0.9"/>
<line x1="385.20" y1="214.75" x2="386.70" y2="214.75" stroke="#111" stroke-width="0.9"/>
<line x1="385.20" y1="206.45" x2="386.70" y2="206.45" stroke="#111" stroke-width="0.9"/>
<text x="369.40" y="198.30" font-size="6.2" text-anchor="middle" font-weight="normal" fill="#222"  stroke="#222" stroke-width="0.12">RU</text>
<text transform="translate(364.60,239.70) rotate(-90) scale(0.74,1)" x="0" y="0" font-size="6.8" text-anchor="middle" font-weight="bold" fill="#1a1a1a" stroke="#1a1a1a" stroke-width="0.2">Response</text>
<text transform="translate(447.30,300.10) scale(0.66,1)" x="0" y="0" font-size="8.1" text-anchor="middle" font-weight="bold" fill="#1a1a1a" stroke="#1a1a1a" stroke-width="0.25">Time</text>
<text x="511.70" y="301.20" font-size="6.3" text-anchor="middle" font-weight="normal" fill="#222"  stroke="#222" stroke-width="0.12">S</text>
<text x="447.90" y="195.30" font-size="8.2" text-anchor="middle" font-weight="normal" fill="#1a1a1a" stroke="#1a1a1a" stroke-width="0.2">z1-201</text>
<line x1="52.24" y1="436.00" x2="58.46" y2="436.00" stroke="#9a9a9a" stroke-width="1.0"/>
<path d="M58.5,436.0 L58.6,436.0 L58.7,436.0 L58.8,436.0 L59.0,436.0 L59.3,430.6 L59.7,424.2 L60.2,417.2 L60.8,410.1 L61.5,403.3 L62.5,395.9 L63.5,390.4 L64.5,386.4 L66.0,382.3 L67.5,379.7 L69.5,377.7 L71.5,376.6 L74.0,376.0 L76.5,375.7 L79.5,375.5 L82.5,375.4 L85.5,375.4 L88.5,375.4 L91.6,375.4 L94.6,375.4 L154.7,376.1" fill="none" stroke="#b4e2c0" stroke-width="1.5" stroke-linejoin="round"/>
<path d="M58.5,436.0 L58.6,436.0 L58.7,436.0 L58.8,436.0 L59.0,436.0 L59.3,430.6 L59.7,424.2 L60.2,417.2 L60.8,410.1 L61.5,403.3 L62.5,395.9 L63.5,390.4 L64.5,386.4 L66.0,382.3 L67.5,379.7 L69.5,377.7 L71.5,376.6 L74.0,376.0 L76.5,375.7 L79.5,375.5 L82.5,375.4 L85.5,375.4 L88.5,375.4 L91.6,375.4 L94.6,375.4 L154.7,376.1" fill="none" stroke="#262626" stroke-opacity="0.95" stroke-width="0.9" stroke-linejoin="round"/>
<path d="M58.5,436.0 L58.6,435.3 L58.7,434.5 L58.8,433.8 L59.0,432.4 L59.3,430.3 L59.7,427.7 L60.2,424.5 L60.8,421.1 L61.5,417.3 L62.5,412.5 L63.5,408.2 L64.5,404.5 L66.0,399.7 L67.5,395.7 L69.5,391.5 L71.5,388.1 L74.0,385.0 L76.5,382.7 L79.5,380.8 L82.5,379.5 L85.5,378.6 L88.5,378.0 L91.6,377.5 L94.6,377.2 L154.7,378.3" fill="none" stroke="#c8b4dc" stroke-width="1.5" stroke-linejoin="round"/>
<path d="M58.5,436.0 L58.6,435.3 L58.7,434.5 L58.8,433.8 L59.0,432.4 L59.3,430.3 L59.7,427.7 L60.2,424.5 L60.8,421.1 L61.5,417.3 L62.5,412.5 L63.5,408.2 L64.5,404.5 L66.0,399.7 L67.5,395.7 L69.5,391.5 L71.5,388.1 L74.0,385.0 L76.5,382.7 L79.5,380.8 L82.5,379.5 L85.5,378.6 L88.5,378.0 L91.6,377.5 L94.6,377.2 L154.7,378.3" fill="none" stroke="#262626" stroke-opacity="0.95" stroke-width="0.9" stroke-linejoin="round"/>
<path d="M58.5,436.0 L58.6,436.0 L58.7,436.0 L58.8,436.0 L59.0,435.7 L59.3,435.0 L59.7,434.0 L60.2,432.8 L60.8,431.4 L61.5,429.7 L62.5,427.5 L63.5,425.4 L64.5,423.4 L66.0,420.5 L67.5,417.8 L69.5,414.5 L71.5,411.5 L74.0,408.0 L76.5,405.0 L79.5,401.7 L82.5,398.9 L85.5,396.4 L88.5,394.3 L91.6,392.4 L94.6,390.7 L154.7,392.5" fill="none" stroke="#ead0b4" stroke-width="1.5" stroke-linejoin="round"/>
<path d="M58.5,436.0 L58.6,436.0 L58.7,436.0 L58.8,436.0 L59.0,435.7 L59.3,435.0 L59.7,434.0 L60.2,432.8 L60.8,431.4 L61.5,429.7 L62.5,427.5 L63.5,425.4 L64.5,423.4 L66.0,420.5 L67.5,417.8 L69.5,414.5 L71.5,411.5 L74.0,408.0 L76.5,405.0 L79.5,401.7 L82.5,398.9 L85.5,396.4 L88.5,394.3 L91.6,392.4 L94.6,390.7 L154.7,392.5" fill="none" stroke="#262626" stroke-opacity="0.95" stroke-width="0.9" stroke-linejoin="round"/>
<path d="M58.5,436.0 L58.6,436.0 L58.7,436.0 L58.8,436.0 L59.0,436.0 L59.3,436.0 L59.7,435.8 L60.2,435.4 L60.8,434.9 L61.5,434.3 L62.5,433.5 L63.5,432.7 L64.5,431.9 L66.0,430.8 L67.5,429.7 L69.5,428.2 L71.5,426.8 L74.0,425.1 L76.5,423.5 L79.5,421.7 L82.5,420.0 L85.5,418.3 L88.5,416.8 L91.6,415.3 L94.6,413.9 L154.7,414.8" fill="none" stroke="#bfe4f4" stroke-width="1.5" stroke-linejoin="round"/>
<path d="M58.5,436.0 L58.6,436.0 L58.7,436.0 L58.8,436.0 L59.0,436.0 L59.3,436.0 L59.7,435.8 L60.2,435.4 L60.8,434.9 L61.5,434.3 L62.5,433.5 L63.5,432.7 L64.5,431.9 L66.0,430.8 L67.5,429.7 L69.5,428.2 L71.5,426.8 L74.0,425.1 L76.5,423.5 L79.5,421.7 L82.5,420.0 L85.5,418.3 L88.5,416.8 L91.6,415.3 L94.6,413.9 L154.7,414.8" fill="none" stroke="#262626" stroke-opacity="0.95" stroke-width="0.9" stroke-linejoin="round"/>
<path d="M58.5,436.0 L58.6,436.0 L58.7,436.0 L58.8,436.0 L59.0,436.0 L59.3,436.0 L59.7,436.0 L60.2,436.0 L60.8,435.9 L61.5,435.8 L62.5,435.5 L63.5,435.3 L64.5,435.0 L66.0,434.7 L67.5,434.3 L69.5,433.8 L71.5,433.4 L74.0,432.8 L76.5,432.2 L79.5,431.5 L82.5,430.8 L85.5,430.1 L88.5,429.4 L91.6,428.7 L94.6,428.0 L154.7,428.6" fill="none" stroke="#f6c4f0" stroke-width="1.5" stroke-linejoin="round"/>
<path d="M58.5,436.0 L58.6,436.0 L58.7,436.0 L58.8,436.0 L59.0,436.0 L59.3,436.0 L59.7,436.0 L60.2,436.0 L60.8,435.9 L61.5,435.8 L62.5,435.5 L63.5,435.3 L64.5,435.0 L66.0,434.7 L67.5,434.3 L69.5,433.8 L71.5,433.4 L74.0,432.8 L76.5,432.2 L79.5,431.5 L82.5,430.8 L85.5,430.1 L88.5,429.4 L91.6,428.7 L94.6,428.0 L154.7,428.6" fill="none" stroke="#262626" stroke-opacity="0.95" stroke-width="0.9" stroke-linejoin="round"/>
<line x1="38.40" y1="366.10" x2="38.40" y2="444.10" stroke="#111" stroke-width="1.25"/>
<line x1="37.80" y1="443.50" x2="161.17" y2="443.50" stroke="#111" stroke-width="1.3"/>
<line x1="38.40" y1="443.50" x2="38.40" y2="445.90" stroke="#111" stroke-width="0.9"/>
<text x="38.40" y="454.40" font-size="6.1" text-anchor="middle" font-weight="normal" fill="#222"  stroke="#222" stroke-width="0.12">−200</text>
<line x1="58.46" y1="443.50" x2="58.46" y2="445.90" stroke="#111" stroke-width="0.9"/>
<text x="58.46" y="454.40" font-size="6.1" text-anchor="middle" font-weight="normal" fill="#222"  stroke="#222" stroke-width="0.12">0</text>
<line x1="78.52" y1="443.50" x2="78.52" y2="445.90" stroke="#111" stroke-width="0.9"/>
<text x="78.52" y="454.40" font-size="6.1" text-anchor="middle" font-weight="normal" fill="#222"  stroke="#222" stroke-width="0.12">200</text>
<line x1="98.58" y1="443.50" x2="98.58" y2="445.90" stroke="#111" stroke-width="0.9"/>
<text x="98.58" y="454.40" font-size="6.1" text-anchor="middle" font-weight="normal" fill="#222"  stroke="#222" stroke-width="0.12">400</text>
<line x1="118.64" y1="443.50" x2="118.64" y2="445.90" stroke="#111" stroke-width="0.9"/>
<text x="118.64" y="454.40" font-size="6.1" text-anchor="middle" font-weight="normal" fill="#222"  stroke="#222" stroke-width="0.12">600</text>
<line x1="138.70" y1="443.50" x2="138.70" y2="445.90" stroke="#111" stroke-width="0.9"/>
<text x="138.70" y="454.40" font-size="6.1" text-anchor="middle" font-weight="normal" fill="#222"  stroke="#222" stroke-width="0.12">800</text>
<line x1="158.76" y1="443.50" x2="158.76" y2="445.90" stroke="#111" stroke-width="0.9"/>
<text x="158.76" y="454.40" font-size="6.1" text-anchor="middle" font-weight="normal" fill="#222"  stroke="#222" stroke-width="0.12">1000</text>
<line x1="48.43" y1="443.50" x2="48.43" y2="445.00" stroke="#111" stroke-width="0.9"/>
<line x1="68.49" y1="443.50" x2="68.49" y2="445.00" stroke="#111" stroke-width="0.9"/>
<line x1="88.55" y1="443.50" x2="88.55" y2="445.00" stroke="#111" stroke-width="0.9"/>
<line x1="108.61" y1="443.50" x2="108.61" y2="445.00" stroke="#111" stroke-width="0.9"/>
<line x1="128.67" y1="443.50" x2="128.67" y2="445.00" stroke="#111" stroke-width="0.9"/>
<line x1="148.73" y1="443.50" x2="148.73" y2="445.00" stroke="#111" stroke-width="0.9"/>
<line x1="35.80" y1="443.50" x2="38.40" y2="443.50" stroke="#111" stroke-width="0.9"/>
<text x="33.10" y="445.65" font-size="6.1" text-anchor="end" font-weight="normal" fill="#222"  stroke="#222" stroke-width="0.12">−10</text>
<line x1="35.80" y1="430.00" x2="38.40" y2="430.00" stroke="#111" stroke-width="0.9"/>
<text x="33.10" y="432.15" font-size="6.1" text-anchor="end" font-weight="normal" fill="#222"  stroke="#222" stroke-width="0.12">10</text>
<line x1="35.80" y1="416.50" x2="38.40" y2="416.50" stroke="#111" stroke-width="0.9"/>
<text x="33.10" y="418.65" font-size="6.1" text-anchor="end" font-weight="normal" fill="#222"  stroke="#222" stroke-width="0.12">30</text>
<line x1="35.80" y1="403.00" x2="38.40" y2="403.00" stroke="#111" stroke-width="0.9"/>
<text x="33.10" y="405.15" font-size="6.1" text-anchor="end" font-weight="normal" fill="#222"  stroke="#222" stroke-width="0.12">50</text>
<line x1="35.80" y1="389.50" x2="38.40" y2="389.50" stroke="#111" stroke-width="0.9"/>
<text x="33.10" y="391.65" font-size="6.1" text-anchor="end" font-weight="normal" fill="#222"  stroke="#222" stroke-width="0.12">70</text>
<line x1="35.80" y1="376.00" x2="38.40" y2="376.00" stroke="#111" stroke-width="0.9"/>
<text x="33.10" y="378.15" font-size="6.1" text-anchor="end" font-weight="normal" fill="#222"  stroke="#222" stroke-width="0.12">90</text>
<line x1="36.90" y1="436.75" x2="38.40" y2="436.75" stroke="#111" stroke-width="0.9"/>
<line x1="36.90" y1="423.25" x2="38.40" y2="423.25" stroke="#111" stroke-width="0.9"/>
<line x1="36.90" y1="409.75" x2="38.40" y2="409.75" stroke="#111" stroke-width="0.9"/>
<line x1="36.90" y1="396.25" x2="38.40" y2="396.25" stroke="#111" stroke-width="0.9"/>
<line x1="36.90" y1="382.75" x2="38.40" y2="382.75" stroke="#111" stroke-width="0.9"/>
<line x1="36.90" y1="369.25" x2="38.40" y2="369.25" stroke="#111" stroke-width="0.9"/>
<text x="21.10" y="364.80" font-size="6.2" text-anchor="middle" font-weight="normal" fill="#222"  stroke="#222" stroke-width="0.12">RU</text>
<text transform="translate(16.30,406.20) rotate(-90) scale(0.74,1)" x="0" y="0" font-size="6.8" text-anchor="middle" font-weight="bold" fill="#1a1a1a" stroke="#1a1a1a" stroke-width="0.2">Response</text>
<text transform="translate(99.00,466.60) scale(0.66,1)" x="0" y="0" font-size="8.1" text-anchor="middle" font-weight="bold" fill="#1a1a1a" stroke="#1a1a1a" stroke-width="0.25">Time</text>
<text x="163.40" y="467.70" font-size="6.3" text-anchor="middle" font-weight="normal" fill="#222"  stroke="#222" stroke-width="0.12">S</text>
<text x="99.60" y="361.80" font-size="8.2" text-anchor="middle" font-weight="normal" fill="#1a1a1a" stroke="#1a1a1a" stroke-width="0.2">z1-303</text>
<line x1="226.89" y1="431.00" x2="233.04" y2="431.00" stroke="#9a9a9a" stroke-width="1.0"/>
<path d="M233.0,431.0 L233.1,430.3 L233.2,429.7 L233.3,429.0 L233.5,427.7 L233.8,425.9 L234.2,423.5 L234.7,420.7 L235.3,417.6 L236.0,414.3 L237.0,410.0 L238.0,406.3 L239.0,403.1 L240.5,399.0 L242.0,395.6 L244.0,392.1 L245.9,389.4 L248.4,386.9 L250.9,385.1 L253.9,383.7 L256.8,382.7 L259.8,382.0 L262.8,381.6 L265.8,381.3 L268.8,381.1 L328.3,381.2" fill="none" stroke="#b4e2c0" stroke-width="1.5" stroke-linejoin="round"/>
<path d="M233.0,431.0 L233.1,430.3 L233.2,429.7 L233.3,429.0 L233.5,427.7 L233.8,425.9 L234.2,423.5 L234.7,420.7 L235.3,417.6 L236.0,414.3 L237.0,410.0 L238.0,406.3 L239.0,403.1 L240.5,399.0 L242.0,395.6 L244.0,392.1 L245.9,389.4 L248.4,386.9 L250.9,385.1 L253.9,383.7 L256.8,382.7 L259.8,382.0 L262.8,381.6 L265.8,381.3 L268.8,381.1 L328.3,381.2" fill="none" stroke="#262626" stroke-opacity="0.95" stroke-width="0.9" stroke-linejoin="round"/>
<path d="M233.0,431.0 L233.1,430.7 L233.2,430.5 L233.3,430.2 L233.5,429.7 L233.8,429.0 L234.2,428.0 L234.7,426.8 L235.3,425.5 L236.0,424.0 L237.0,421.9 L238.0,420.0 L239.0,418.3 L240.5,415.8 L242.0,413.6 L244.0,411.0 L245.9,408.7 L248.4,406.2 L250.9,404.2 L253.9,402.1 L256.8,400.4 L259.8,399.0 L262.8,397.9 L265.8,397.0 L268.8,396.3 L328.3,396.4" fill="none" stroke="#c8b4dc" stroke-width="1.5" stroke-linejoin="round"/>
<path d="M233.0,431.0 L233.1,430.7 L233.2,430.5 L233.3,430.2 L233.5,429.7 L233.8,429.0 L234.2,428.0 L234.7,426.8 L235.3,425.5 L236.0,424.0 L237.0,421.9 L238.0,420.0 L239.0,418.3 L240.5,415.8 L242.0,413.6 L244.0,411.0 L245.9,408.7 L248.4,406.2 L250.9,404.2 L253.9,402.1 L256.8,400.4 L259.8,399.0 L262.8,397.9 L265.8,397.0 L268.8,396.3 L328.3,396.4" fill="none" stroke="#262626" stroke-opacity="0.95" stroke-width="0.9" stroke-linejoin="round"/>
<path d="M233.0,431.0 L233.1,430.9 L233.2,430.8 L233.3,430.7 L233.5,430.6 L233.8,430.3 L234.2,430.0 L234.7,429.5 L235.3,429.1 L236.0,428.5 L237.0,427.7 L238.0,427.0 L239.0,426.3 L240.5,425.3 L242.0,424.3 L244.0,423.1 L245.9,422.0 L248.4,420.8 L250.9,419.7 L253.9,418.5 L256.8,417.4 L259.8,416.4 L262.8,415.6 L265.8,414.8 L268.8,414.2 L328.3,414.3" fill="none" stroke="#ead0b4" stroke-width="1.5" stroke-linejoin="round"/>
<path d="M233.0,431.0 L233.1,430.9 L233.2,430.8 L233.3,430.7 L233.5,430.6 L233.8,430.3 L234.2,430.0 L234.7,429.5 L235.3,429.1 L236.0,428.5 L237.0,427.7 L238.0,427.0 L239.0,426.3 L240.5,425.3 L242.0,424.3 L244.0,423.1 L245.9,422.0 L248.4,420.8 L250.9,419.7 L253.9,418.5 L256.8,417.4 L259.8,416.4 L262.8,415.6 L265.8,414.8 L268.8,414.2 L328.3,414.3" fill="none" stroke="#262626" stroke-opacity="0.95" stroke-width="0.9" stroke-linejoin="round"/>
<path d="M233.0,431.0 L233.1,431.0 L233.2,430.9 L233.3,430.9 L233.5,430.8 L233.8,430.7 L234.2,430.6 L234.7,430.4 L235.3,430.3 L236.0,430.0 L237.0,429.7 L238.0,429.5 L239.0,429.2 L240.5,428.8 L242.0,428.5 L244.0,428.0 L245.9,427.6 L248.4,427.2 L250.9,426.8 L253.9,426.4 L256.8,426.0 L259.8,425.7 L262.8,425.4 L265.8,425.1 L268.8,424.9 L328.3,424.7" fill="none" stroke="#bfe4f4" stroke-width="1.5" stroke-linejoin="round"/>
<path d="M233.0,431.0 L233.1,431.0 L233.2,430.9 L233.3,430.9 L233.5,430.8 L233.8,430.7 L234.2,430.6 L234.7,430.4 L235.3,430.3 L236.0,430.0 L237.0,429.7 L238.0,429.5 L239.0,429.2 L240.5,428.8 L242.0,428.5 L244.0,428.0 L245.9,427.6 L248.4,427.2 L250.9,426.8 L253.9,426.4 L256.8,426.0 L259.8,425.7 L262.8,425.4 L265.8,425.1 L268.8,424.9 L328.3,424.7" fill="none" stroke="#262626" stroke-opacity="0.95" stroke-width="0.9" stroke-linejoin="round"/>
<path d="M233.0,431.0 L233.1,431.0 L233.2,431.0 L233.3,431.0 L233.5,430.9 L233.8,430.9 L234.2,430.8 L234.7,430.8 L235.3,430.7 L236.0,430.6 L237.0,430.5 L238.0,430.4 L239.0,430.3 L240.5,430.2 L242.0,430.0 L244.0,429.9 L245.9,429.7 L248.4,429.5 L250.9,429.4 L253.9,429.2 L256.8,429.1 L259.8,428.9 L262.8,428.8 L265.8,428.7 L268.8,428.6 L328.3,428.6" fill="none" stroke="#f6c4f0" stroke-width="1.5" stroke-linejoin="round"/>
<path d="M233.0,431.0 L233.1,431.0 L233.2,431.0 L233.3,431.0 L233.5,430.9 L233.8,430.9 L234.2,430.8 L234.7,430.8 L235.3,430.7 L236.0,430.6 L237.0,430.5 L238.0,430.4 L239.0,430.3 L240.5,430.2 L242.0,430.0 L244.0,429.9 L245.9,429.7 L248.4,429.5 L250.9,429.4 L253.9,429.2 L256.8,429.1 L259.8,428.9 L262.8,428.8 L265.8,428.7 L268.8,428.6 L328.3,428.6" fill="none" stroke="#262626" stroke-opacity="0.95" stroke-width="0.9" stroke-linejoin="round"/>
<line x1="213.20" y1="366.60" x2="213.20" y2="444.10" stroke="#111" stroke-width="1.25"/>
<line x1="212.60" y1="443.50" x2="334.62" y2="443.50" stroke="#111" stroke-width="1.3"/>
<line x1="213.20" y1="443.50" x2="213.20" y2="445.90" stroke="#111" stroke-width="0.9"/>
<text x="213.20" y="454.40" font-size="6.1" text-anchor="middle" font-weight="normal" fill="#222"  stroke="#222" stroke-width="0.12">−200</text>
<line x1="233.04" y1="443.50" x2="233.04" y2="445.90" stroke="#111" stroke-width="0.9"/>
<text x="233.04" y="454.40" font-size="6.1" text-anchor="middle" font-weight="normal" fill="#222"  stroke="#222" stroke-width="0.12">0</text>
<line x1="252.88" y1="443.50" x2="252.88" y2="445.90" stroke="#111" stroke-width="0.9"/>
<text x="252.88" y="454.40" font-size="6.1" text-anchor="middle" font-weight="normal" fill="#222"  stroke="#222" stroke-width="0.12">200</text>
<line x1="272.72" y1="443.50" x2="272.72" y2="445.90" stroke="#111" stroke-width="0.9"/>
<text x="272.72" y="454.40" font-size="6.1" text-anchor="middle" font-weight="normal" fill="#222"  stroke="#222" stroke-width="0.12">400</text>
<line x1="292.56" y1="443.50" x2="292.56" y2="445.90" stroke="#111" stroke-width="0.9"/>
<text x="292.56" y="454.40" font-size="6.1" text-anchor="middle" font-weight="normal" fill="#222"  stroke="#222" stroke-width="0.12">600</text>
<line x1="312.40" y1="443.50" x2="312.40" y2="445.90" stroke="#111" stroke-width="0.9"/>
<text x="312.40" y="454.40" font-size="6.1" text-anchor="middle" font-weight="normal" fill="#222"  stroke="#222" stroke-width="0.12">800</text>
<line x1="332.24" y1="443.50" x2="332.24" y2="445.90" stroke="#111" stroke-width="0.9"/>
<text x="332.24" y="454.40" font-size="6.1" text-anchor="middle" font-weight="normal" fill="#222"  stroke="#222" stroke-width="0.12">1000</text>
<line x1="223.12" y1="443.50" x2="223.12" y2="445.00" stroke="#111" stroke-width="0.9"/>
<line x1="242.96" y1="443.50" x2="242.96" y2="445.00" stroke="#111" stroke-width="0.9"/>
<line x1="262.80" y1="443.50" x2="262.80" y2="445.00" stroke="#111" stroke-width="0.9"/>
<line x1="282.64" y1="443.50" x2="282.64" y2="445.00" stroke="#111" stroke-width="0.9"/>
<line x1="302.48" y1="443.50" x2="302.48" y2="445.00" stroke="#111" stroke-width="0.9"/>
<line x1="322.32" y1="443.50" x2="322.32" y2="445.00" stroke="#111" stroke-width="0.9"/>
<line x1="210.60" y1="443.50" x2="213.20" y2="443.50" stroke="#111" stroke-width="0.9"/>
<text x="207.90" y="445.65" font-size="6.1" text-anchor="end" font-weight="normal" fill="#222"  stroke="#222" stroke-width="0.12">−50</text>
<line x1="210.60" y1="431.24" x2="213.20" y2="431.24" stroke="#111" stroke-width="0.9"/>
<text x="207.90" y="433.38" font-size="6.1" text-anchor="end" font-weight="normal" fill="#222"  stroke="#222" stroke-width="0.12">0</text>
<line x1="210.60" y1="418.97" x2="213.20" y2="418.97" stroke="#111" stroke-width="0.9"/>
<text x="207.90" y="421.12" font-size="6.1" text-anchor="end" font-weight="normal" fill="#222"  stroke="#222" stroke-width="0.12">50</text>
<line x1="210.60" y1="406.70" x2="213.20" y2="406.70" stroke="#111" stroke-width="0.9"/>
<text x="207.90" y="408.85" font-size="6.1" text-anchor="end" font-weight="normal" fill="#222"  stroke="#222" stroke-width="0.12">100</text>
<line x1="210.60" y1="394.44" x2="213.20" y2="394.44" stroke="#111" stroke-width="0.9"/>
<text x="207.90" y="396.59" font-size="6.1" text-anchor="end" font-weight="normal" fill="#222"  stroke="#222" stroke-width="0.12">150</text>
<line x1="210.60" y1="382.18" x2="213.20" y2="382.18" stroke="#111" stroke-width="0.9"/>
<text x="207.90" y="384.32" font-size="6.1" text-anchor="end" font-weight="normal" fill="#222"  stroke="#222" stroke-width="0.12">200</text>
<line x1="210.60" y1="369.91" x2="213.20" y2="369.91" stroke="#111" stroke-width="0.9"/>
<text x="207.90" y="372.06" font-size="6.1" text-anchor="end" font-weight="normal" fill="#222"  stroke="#222" stroke-width="0.12">250</text>
<line x1="211.70" y1="437.37" x2="213.20" y2="437.37" stroke="#111" stroke-width="0.9"/>
<line x1="211.70" y1="425.10" x2="213.20" y2="425.10" stroke="#111" stroke-width="0.9"/>
<line x1="211.70" y1="412.84" x2="213.20" y2="412.84" stroke="#111" stroke-width="0.9"/>
<line x1="211.70" y1="400.57" x2="213.20" y2="400.57" stroke="#111" stroke-width="0.9"/>
<line x1="211.70" y1="388.31" x2="213.20" y2="388.31" stroke="#111" stroke-width="0.9"/>
<line x1="211.70" y1="376.04" x2="213.20" y2="376.04" stroke="#111" stroke-width="0.9"/>
<text x="195.90" y="364.80" font-size="6.2" text-anchor="middle" font-weight="normal" fill="#222"  stroke="#222" stroke-width="0.12">RU</text>
<text transform="translate(191.10,406.20) rotate(-90) scale(0.74,1)" x="0" y="0" font-size="6.8" text-anchor="middle" font-weight="bold" fill="#1a1a1a" stroke="#1a1a1a" stroke-width="0.2">Response</text>
<text transform="translate(273.80,466.60) scale(0.66,1)" x="0" y="0" font-size="8.1" text-anchor="middle" font-weight="bold" fill="#1a1a1a" stroke="#1a1a1a" stroke-width="0.25">Time</text>
<text x="338.20" y="467.70" font-size="6.3" text-anchor="middle" font-weight="normal" fill="#222"  stroke="#222" stroke-width="0.12">S</text>
<text x="274.40" y="361.80" font-size="8.2" text-anchor="middle" font-weight="normal" fill="#1a1a1a" stroke="#1a1a1a" stroke-width="0.2">1-416</text>
<text x="147.50" y="149.90" font-size="6.0" text-anchor="middle" font-weight="normal" fill="#222" stroke="#222" stroke-width="0.15">ADAMTS13</text>
<text x="147.50" y="157.50" font-size="6.0" text-anchor="middle" font-weight="normal" fill="#222" stroke="#222" stroke-width="0.15">Concentration</text>
<rect x="180.30" y="148.90" width="5.4" height="5.4" fill="#43a85a"/>
<text x="188.80" y="153.70" font-size="6.2" text-anchor="start" font-weight="normal" fill="#222" stroke="#222" stroke-width="0.15">30 nM</text>
<rect x="214.60" y="148.90" width="5.4" height="5.4" fill="#4b2163"/>
<text x="223.10" y="153.70" font-size="6.2" text-anchor="start" font-weight="normal" fill="#222" stroke="#222" stroke-width="0.15">10 nM</text>
<rect x="248.60" y="148.90" width="5.4" height="5.4" fill="#a8703a"/>
<text x="257.10" y="153.70" font-size="6.2" text-anchor="start" font-weight="normal" fill="#222" stroke="#222" stroke-width="0.15">3.33 nM</text>
<rect x="288.00" y="148.90" width="5.4" height="5.4" fill="#3eaee0"/>
<text x="296.50" y="153.70" font-size="6.2" text-anchor="start" font-weight="normal" fill="#222" stroke="#222" stroke-width="0.15">1.11 nM</text>
<rect x="327.40" y="148.90" width="5.4" height="5.4" fill="#e040e0"/>
<text x="335.90" y="153.70" font-size="6.2" text-anchor="start" font-weight="normal" fill="#222" stroke="#222" stroke-width="0.15">0.37 nM</text>
<rect x="365.20" y="148.90" width="5.4" height="5.4" fill="#111111"/>
<text x="373.70" y="153.70" font-size="6.2" text-anchor="start" font-weight="normal" fill="#222" stroke="#222" stroke-width="0.15">1:1 Fit</text>
<text x="147.50" y="315.80" font-size="6.0" text-anchor="middle" font-weight="normal" fill="#222" stroke="#222" stroke-width="0.15">ADAMTS13</text>
<text x="147.50" y="323.40" font-size="6.0" text-anchor="middle" font-weight="normal" fill="#222" stroke="#222" stroke-width="0.15">Concentration</text>
<rect x="180.30" y="314.80" width="5.4" height="5.4" fill="#43a85a"/>
<text x="188.80" y="319.60" font-size="6.2" text-anchor="start" font-weight="normal" fill="#222" stroke="#222" stroke-width="0.15">30 nM</text>
<rect x="214.60" y="314.80" width="5.4" height="5.4" fill="#4b2163"/>
<text x="223.10" y="319.60" font-size="6.2" text-anchor="start" font-weight="normal" fill="#222" stroke="#222" stroke-width="0.15">10 nM</text>
<rect x="248.60" y="314.80" width="5.4" height="5.4" fill="#a8703a"/>
<text x="257.10" y="319.60" font-size="6.2" text-anchor="start" font-weight="normal" fill="#222" stroke="#222" stroke-width="0.15">3.33 nM</text>
<rect x="288.00" y="314.80" width="5.4" height="5.4" fill="#3eaee0"/>
<text x="296.50" y="319.60" font-size="6.2" text-anchor="start" font-weight="normal" fill="#222" stroke="#222" stroke-width="0.15">1.11 nM</text>
<rect x="327.40" y="314.80" width="5.4" height="5.4" fill="#e040e0"/>
<text x="335.90" y="319.60" font-size="6.2" text-anchor="start" font-weight="normal" fill="#222" stroke="#222" stroke-width="0.15">0.37 nM</text>
<rect x="365.20" y="314.80" width="5.4" height="5.4" fill="#111111"/>
<text x="373.70" y="319.60" font-size="6.2" text-anchor="start" font-weight="normal" fill="#222" stroke="#222" stroke-width="0.15">1:1 Fit</text>
<text x="147.50" y="482.80" font-size="6.0" text-anchor="middle" font-weight="normal" fill="#222" stroke="#222" stroke-width="0.15">ADAMTS13</text>
<text x="147.50" y="490.40" font-size="6.0" text-anchor="middle" font-weight="normal" fill="#222" stroke="#222" stroke-width="0.15">Concentration</text>
<rect x="180.30" y="481.80" width="5.4" height="5.4" fill="#43a85a"/>
<text x="188.80" y="486.60" font-size="6.2" text-anchor="start" font-weight="normal" fill="#222" stroke="#222" stroke-width="0.15">30 nM</text>
<rect x="214.60" y="481.80" width="5.4" height="5.4" fill="#4b2163"/>
<text x="223.10" y="486.60" font-size="6.2" text-anchor="start" font-weight="normal" fill="#222" stroke="#222" stroke-width="0.15">10 nM</text>
<rect x="248.60" y="481.80" width="5.4" height="5.4" fill="#a8703a"/>
<text x="257.10" y="486.60" font-size="6.2" text-anchor="start" font-weight="normal" fill="#222" stroke="#222" stroke-width="0.15">3.33 nM</text>
<rect x="288.00" y="481.80" width="5.4" height="5.4" fill="#3eaee0"/>
<text x="296.50" y="486.60" font-size="6.2" text-anchor="start" font-weight="normal" fill="#222" stroke="#222" stroke-width="0.15">1.11 nM</text>
<rect x="327.40" y="481.80" width="5.4" height="5.4" fill="#e040e0"/>
<text x="335.90" y="486.60" font-size="6.2" text-anchor="start" font-weight="normal" fill="#222" stroke="#222" stroke-width="0.15">0.37 nM</text>
<rect x="365.20" y="481.80" width="5.4" height="5.4" fill="#111111"/>
<text x="373.70" y="486.60" font-size="6.2" text-anchor="start" font-weight="normal" fill="#222" stroke="#222" stroke-width="0.15">1:1 Fit</text>
<line x1="366.30" y1="361.50" x2="366.30" y2="461.60" stroke="#222" stroke-width="1.2"/>
<line x1="399.30" y1="361.50" x2="399.30" y2="461.60" stroke="#222" stroke-width="1.2"/>
<line x1="440.00" y1="361.50" x2="440.00" y2="461.60" stroke="#222" stroke-width="1.2"/>
<line x1="472.40" y1="361.50" x2="472.40" y2="461.60" stroke="#222" stroke-width="1.2"/>
<line x1="505.80" y1="361.50" x2="505.80" y2="461.60" stroke="#222" stroke-width="1.2"/>
<line x1="365.70" y1="362.10" x2="506.40" y2="362.10" stroke="#222" stroke-width="1.2"/>
<line x1="365.70" y1="374.40" x2="506.40" y2="374.40" stroke="#222" stroke-width="1.2"/>
<line x1="365.70" y1="385.22" x2="506.40" y2="385.22" stroke="#222" stroke-width="1.2"/>
<line x1="365.70" y1="396.05" x2="506.40" y2="396.05" stroke="#222" stroke-width="1.2"/>
<line x1="365.70" y1="406.88" x2="506.40" y2="406.88" stroke="#222" stroke-width="1.2"/>
<line x1="365.70" y1="417.70" x2="506.40" y2="417.70" stroke="#222" stroke-width="1.2"/>
<line x1="365.70" y1="428.52" x2="506.40" y2="428.52" stroke="#222" stroke-width="1.2"/>
<line x1="365.70" y1="439.35" x2="506.40" y2="439.35" stroke="#222" stroke-width="1.2"/>
<line x1="365.70" y1="450.17" x2="506.40" y2="450.17" stroke="#222" stroke-width="1.2"/>
<line x1="365.70" y1="461.00" x2="506.40" y2="461.00" stroke="#222" stroke-width="1.2"/>
<text x="369.90" y="370.25" font-size="6.1" text-anchor="start" font-weight="bold" fill="#111"  stroke="#111" stroke-width="0.12">Antibody</text>
<text x="402.70" y="370.25" font-size="6.1" font-weight="bold" fill="#111">K<tspan font-size="4.0" dy="1.4">on</tspan><tspan dy="-1.4"> (M</tspan><tspan font-size="4.0" dy="-2.2">−1</tspan><tspan dy="2.2">S</tspan><tspan font-size="4.0" dy="-2.2">−1</tspan><tspan dy="2.2">)</tspan></text>
<text x="443.40" y="370.25" font-size="6.1" font-weight="bold" fill="#111">K<tspan font-size="4.0" dy="1.4">off</tspan><tspan dy="-1.4"> (S</tspan><tspan font-size="4.0" dy="-2.2">−1</tspan><tspan dy="2.2">)</tspan></text>
<text x="475.80" y="370.25" font-size="6.1" font-weight="bold" fill="#111">K<tspan font-size="4.0" dy="1.4">D</tspan><tspan dy="-1.4"> (M)</tspan></text>
<text x="369.90" y="382.01" font-size="6.2" text-anchor="start" font-weight="normal" fill="#2a2a2a"  stroke="#2a2a2a" stroke-width="0.12">1-403</text>
<text x="402.90" y="382.01" font-size="6.2" text-anchor="start" font-weight="normal" fill="#2a2a2a"  stroke="#2a2a2a" stroke-width="0.12">7.67E4</text>
<text x="443.60" y="382.01" font-size="6.2" text-anchor="start" font-weight="normal" fill="#2a2a2a"  stroke="#2a2a2a" stroke-width="0.12">1.20E-4</text>
<text x="476.00" y="382.01" font-size="6.2" text-anchor="start" font-weight="normal" fill="#2a2a2a"  stroke="#2a2a2a" stroke-width="0.12">1.56E-9</text>
<text x="369.90" y="392.84" font-size="6.2" text-anchor="start" font-weight="normal" fill="#2a2a2a"  stroke="#2a2a2a" stroke-width="0.12">1-407</text>
<text x="402.90" y="392.84" font-size="6.2" text-anchor="start" font-weight="normal" fill="#2a2a2a"  stroke="#2a2a2a" stroke-width="0.12">2.36E5</text>
<text x="443.60" y="392.84" font-size="6.2" text-anchor="start" font-weight="normal" fill="#2a2a2a"  stroke="#2a2a2a" stroke-width="0.12">1.94E-3</text>
<text x="476.00" y="392.84" font-size="6.2" text-anchor="start" font-weight="normal" fill="#2a2a2a"  stroke="#2a2a2a" stroke-width="0.12">8.22E-9</text>
<text x="369.90" y="403.66" font-size="6.2" text-anchor="start" font-weight="normal" fill="#2a2a2a"  stroke="#2a2a2a" stroke-width="0.12">1-410</text>
<text x="402.90" y="403.66" font-size="6.2" text-anchor="start" font-weight="normal" fill="#2a2a2a"  stroke="#2a2a2a" stroke-width="0.12">1.66E5</text>
<text x="443.60" y="403.66" font-size="6.2" text-anchor="start" font-weight="normal" fill="#2a2a2a"  stroke="#2a2a2a" stroke-width="0.12">2.21E-3</text>
<text x="476.00" y="403.66" font-size="6.2" text-anchor="start" font-weight="normal" fill="#2a2a2a"  stroke="#2a2a2a" stroke-width="0.12">1.34E-8</text>
<text x="369.90" y="414.49" font-size="6.2" text-anchor="start" font-weight="normal" fill="#2a2a2a"  stroke="#2a2a2a" stroke-width="0.12">1-440</text>
<text x="402.90" y="414.49" font-size="6.2" text-anchor="start" font-weight="normal" fill="#2a2a2a"  stroke="#2a2a2a" stroke-width="0.12">6.44E5</text>
<text x="443.60" y="414.49" font-size="6.2" text-anchor="start" font-weight="normal" fill="#2a2a2a"  stroke="#2a2a2a" stroke-width="0.12">1.88E-3</text>
<text x="476.00" y="414.49" font-size="6.2" text-anchor="start" font-weight="normal" fill="#2a2a2a"  stroke="#2a2a2a" stroke-width="0.12">2.92E-9</text>
<text x="369.90" y="425.31" font-size="6.2" text-anchor="start" font-weight="normal" fill="#2a2a2a"  stroke="#2a2a2a" stroke-width="0.12">1-441</text>
<text x="402.90" y="425.31" font-size="6.2" text-anchor="start" font-weight="normal" fill="#2a2a2a"  stroke="#2a2a2a" stroke-width="0.12">2.98E5</text>
<text x="443.60" y="425.31" font-size="6.2" text-anchor="start" font-weight="normal" fill="#2a2a2a"  stroke="#2a2a2a" stroke-width="0.12">7.89E-5</text>
<text x="476.00" y="425.31" font-size="6.2" text-anchor="start" font-weight="normal" fill="#2a2a2a"  stroke="#2a2a2a" stroke-width="0.12">2.64E-10</text>
<text x="369.90" y="436.14" font-size="6.2" text-anchor="start" font-weight="normal" fill="#2a2a2a"  stroke="#2a2a2a" stroke-width="0.12">Z1-201</text>
<text x="402.90" y="436.14" font-size="6.2" text-anchor="start" font-weight="normal" fill="#2a2a2a"  stroke="#2a2a2a" stroke-width="0.12">5.17E5</text>
<text x="443.60" y="436.14" font-size="6.2" text-anchor="start" font-weight="normal" fill="#2a2a2a"  stroke="#2a2a2a" stroke-width="0.12">1.67E-3</text>
<text x="476.00" y="436.14" font-size="6.2" text-anchor="start" font-weight="normal" fill="#2a2a2a"  stroke="#2a2a2a" stroke-width="0.12">3.24E-9</text>
<text x="369.90" y="446.96" font-size="6.2" text-anchor="start" font-weight="normal" fill="#2a2a2a"  stroke="#2a2a2a" stroke-width="0.12">Z1-303</text>
<text x="402.90" y="446.96" font-size="6.2" text-anchor="start" font-weight="normal" fill="#2a2a2a"  stroke="#2a2a2a" stroke-width="0.12">1.14E6</text>
<text x="443.60" y="446.96" font-size="6.2" text-anchor="start" font-weight="normal" fill="#2a2a2a"  stroke="#2a2a2a" stroke-width="0.12">4.74E-5</text>
<text x="476.00" y="446.96" font-size="6.2" text-anchor="start" font-weight="normal" fill="#2a2a2a"  stroke="#2a2a2a" stroke-width="0.12">4.16E-11</text>
<text x="369.90" y="457.79" font-size="6.2" text-anchor="start" font-weight="normal" fill="#2a2a2a"  stroke="#2a2a2a" stroke-width="0.12">1-416</text>
<text x="402.90" y="457.79" font-size="6.2" text-anchor="start" font-weight="normal" fill="#2a2a2a"  stroke="#2a2a2a" stroke-width="0.12">3.15E5</text>
<text x="443.60" y="457.79" font-size="6.2" text-anchor="start" font-weight="normal" fill="#2a2a2a"  stroke="#2a2a2a" stroke-width="0.12">3.65E-7</text>
<text x="476.00" y="457.79" font-size="6.2" text-anchor="start" font-weight="normal" fill="#2a2a2a"  stroke="#2a2a2a" stroke-width="0.12">1.16E-12</text>
<line x1="0.50" y1="0.00" x2="0.50" y2="498.00" stroke="#505050" stroke-width="1.0"/>
<line x1="0.00" y1="0.50" x2="520.00" y2="0.50" stroke="#505050" stroke-width="1.0"/>
<line x1="519.50" y1="0.00" x2="519.50" y2="498.00" stroke="#505050" stroke-width="1.0"/>
<line x1="0.00" y1="497.25" x2="520.00" y2="497.25" stroke="#505050" stroke-width="1.5"/>
</svg>
</body></html>
